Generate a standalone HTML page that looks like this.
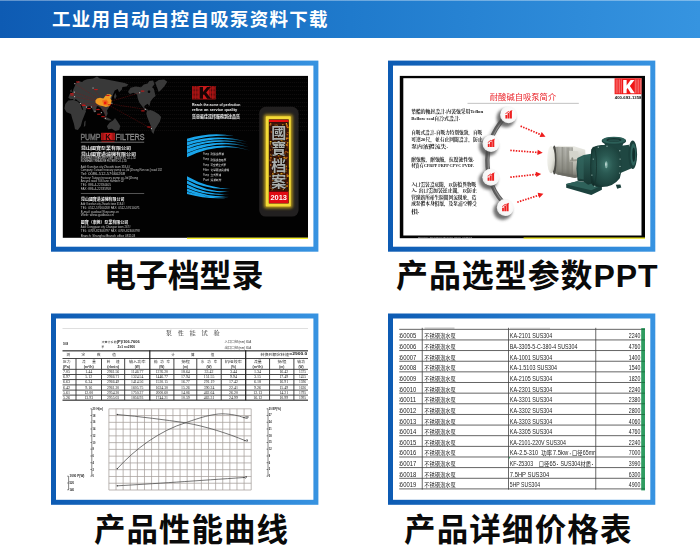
<!DOCTYPE html>
<html lang="zh-CN">
<head>
<meta charset="utf-8">
<title>工业用自动自控自吸泵资料下载</title>
<style>
html,body{margin:0;padding:0;background:#fff;}
body{width:700px;height:552px;position:relative;overflow:hidden;font-family:"Liberation Sans","Noto Sans CJK SC",sans-serif;}
.header{position:absolute;left:0;top:0;width:700px;height:38px;}
.header .bar{position:absolute;left:0;top:0;width:700px;height:37.5px;background:linear-gradient(to right,#0e5bb3 0%,#1f7acc 50%,#3694e0 100%);}
.header .hl{position:absolute;left:0;top:0;width:700px;height:1px;background:rgba(255,255,255,.35);}
.header svg{position:absolute;left:0;top:0;}
.frame{position:absolute;}
.frame svg{display:block;opacity:.999;}
.caption{position:absolute;left:0;width:700px;height:48px;}
.caption svg{display:block;}
text{font-family:"Liberation Sans","Noto Sans CJK SC",sans-serif;}
.serif{font-family:"Liberation Serif","Noto Serif CJK SC",serif;}
</style>
</head>
<body>
<div class="header"><div class="bar"></div><div class="hl"></div>
<svg width="700" height="38" viewBox="0 0 700 38"><text x="52" y="26.4" font-size="18.5" font-weight="bold" fill="#ffffff" textLength="275.5" lengthAdjust="spacing">工业用自动自控自吸泵资料下载</text></svg>
</div>
<div class="frame f1" style="left:50px;top:59px;width:271px;height:195px">
<svg width="271" height="195" viewBox="50 59 271 195">
<defs><linearGradient id="fg-f1" gradientUnits="userSpaceOnUse" x1="51" y1="0" x2="318.4" y2="0"><stop offset="0" stop-color="#0d5bb3"/><stop offset="1" stop-color="#3793e1"/></linearGradient></defs>
<rect x="51" y="60.6" width="267.4" height="191.1" fill="url(#fg-f1)"/>
<rect x="56" y="65.6" width="257.4" height="181.1" fill="#ffffff"/>
<rect x="62.8" y="75.9" width="245.2" height="161.9" fill="#020202"/>
<rect x="187" y="237.7" width="121" height="1.2" fill="#f4ee10"/>
<g stroke="#1c1919" stroke-width="0.5" stroke-dasharray="1.2 0.8"><line x1="120" y1="78.5" x2="308" y2="78.5"/><line x1="120" y1="82.5" x2="308" y2="82.5"/><line x1="120" y1="86.5" x2="308" y2="86.5"/><line x1="120" y1="90.5" x2="308" y2="90.5"/><line x1="120" y1="94.5" x2="308" y2="94.5"/><line x1="120" y1="98.5" x2="308" y2="98.5"/><line x1="120" y1="102.5" x2="308" y2="102.5"/><line x1="120" y1="106.5" x2="308" y2="106.5"/><line x1="120" y1="110.5" x2="308" y2="110.5"/><line x1="120" y1="114.5" x2="308" y2="114.5"/><line x1="120" y1="118.5" x2="308" y2="118.5"/><line x1="120" y1="122.5" x2="308" y2="122.5"/><line x1="120" y1="126.5" x2="308" y2="126.5"/><line x1="120" y1="130.5" x2="308" y2="130.5"/></g>
<polygon points="68.3,97.8 69.7,93.9 72.2,92.8 73.3,89.5 75.5,84.5 78.2,80.9 82.1,82.0 83.8,80.4 87.1,79.3 93.1,78.6 97.0,76.4 99.8,78.4 104.2,79.0 111.9,80.4 119.7,82.0 124.6,83.1 128.5,84.5 126.3,86.4 122.4,87.0 121.9,89.5 119.1,92.2 117.7,88.9 114.7,90.6 113.0,94.4 111.9,97.8 110.6,102.2 109.2,107.1 107.0,110.5 107.7,113.8 105.9,117.3 104.0,112.7 102.0,109.6 100.0,107.1 97.0,106.0 95.1,112.5 93.7,112.1 91.5,107.1 89.0,106.0 87.4,107.1 85.2,111.6 83.4,110.5 82.1,106.3 80.4,103.0 77.7,100.7 75.7,99.0 74.4,100.7 72.8,99.0 70.5,99.2" fill="#393939"/>
<polygon points="65.3,104.1 68.3,100.5 73.3,99.9 77.7,101.6 80.4,104.5 82.1,109.4 86.1,110.9 84.1,116.0 82.3,120.4 80.8,125.9 77.9,129.9 75.0,129.2 73.9,123.7 72.2,118.4 71.0,114.0 66.6,112.2 64.4,108.5" fill="#393939"/>
<polygon points="84.3,121.7 85.7,120.4 85.3,125.7 83.8,127.0" fill="#393939"/>
<polygon points="106.9,126.2 109.7,122.6 113.0,120.4 115.0,118.0 117.5,121.5 120.3,125.9 119.2,129.9 115.2,131.0 111.9,128.8 108.2,129.2" fill="#393939"/>
<polygon points="103.3,118.0 106.4,117.3 109.7,118.8 111.9,120.2 108.6,120.4 105.3,119.5" fill="#393939"/>
<polygon points="113.9,96.7 115.2,93.0 116.6,95.9 115.0,99.6" fill="#393939"/>
<polygon points="70.2,90.6 71.5,89.2 71.9,91.7 70.6,92.6" fill="#393939"/>
<polygon points="128.0,91.9 130.5,87.8 135.5,86.6 141.0,87.3 143.8,84.5 147.6,83.4 149.3,81.1 153.1,80.6 154.5,84.2 152.0,87.3 153.7,88.6 155.6,96.1 153.1,97.9 150.5,101.6 149.4,106.3 147.6,103.8 145.0,105.4 143.9,107.1 146.1,108.8 148.5,110.0 147.6,111.1 144.5,109.4 142.1,106.3 139.4,102.7 137.7,98.3 137.1,94.6 133.3,92.8 129.9,94.1" fill="#393939"/>
<polygon points="155.1,82.4 158.7,80.1 164.2,79.5 167.3,81.7 164.4,86.2 161.5,89.5 158.7,91.9 157.0,87.3" fill="#393939"/>
<polygon points="147.0,111.1 150.4,109.9 154.3,111.6 158.7,114.2 161.2,117.1 159.9,121.5 157.1,125.9 154.9,129.2 153.4,133.9 151.6,131.5 150.9,125.9 149.0,121.5 147.2,117.1 146.3,113.3" fill="#393939"/>
<circle cx="149.0" cy="91.7" r="1.3" fill="#050505"/>
<g stroke="#8a1515" stroke-width="0.45" stroke-dasharray="1.6 0.7" opacity="0.85"><line x1="104.8" y1="103.0" x2="74.9" y2="83.7"/><line x1="104.8" y1="103.0" x2="74.4" y2="92.2"/><line x1="104.8" y1="103.0" x2="74.6" y2="96.7"/><line x1="104.8" y1="103.0" x2="80.4" y2="103.6"/><line x1="104.8" y1="103.0" x2="86.5" y2="107.1"/><line x1="104.8" y1="103.0" x2="91.5" y2="107.1"/><line x1="104.8" y1="103.0" x2="95.1" y2="111.3"/><line x1="104.8" y1="103.0" x2="101.4" y2="112.7"/><line x1="104.8" y1="103.0" x2="105.5" y2="118.4"/><line x1="104.8" y1="103.0" x2="93.1" y2="88.1"/><line x1="104.8" y1="103.0" x2="110.3" y2="97.2"/><line x1="104.8" y1="103.0" x2="111.9" y2="103.3"/><line x1="104.8" y1="103.0" x2="139.7" y2="92.8"/><line x1="104.8" y1="103.0" x2="145.4" y2="109.4"/><line x1="104.8" y1="103.0" x2="151.5" y2="128.7"/></g>
<polygon points="95.4,100.5 97.0,98.5 100.0,97.8 103.3,98.5 105.3,96.1 107.0,94.3 110.3,94.3 111.9,95.7 109.9,97.6 111.7,100.5 111.0,103.8 109.2,106.3 105.9,107.1 102.5,106.0 99.8,105.5 97.0,104.1 95.6,102.7" fill="#f09a22"/>
<polygon points="102.0,100.5 106.4,99.6 108.6,102.2 107.0,105.5 103.6,104.9" fill="#f26a1a"/>
<polygon points="104.0,101.8 106.4,101.6 106.4,104.1 104.2,104.3" fill="#ea1a10"/>
<rect x="74.3" y="83.1" width="1.1" height="1.1" fill="#b4b4b4"/><rect x="76.1" y="81.5" width="3.4" height="1" fill="#c81818"/><rect x="73.8" y="91.6" width="1.1" height="1.1" fill="#b4b4b4"/><rect x="70.2" y="93.2" width="3.4" height="1" fill="#c81818"/><rect x="74.0" y="96.1" width="1.1" height="1.1" fill="#b4b4b4"/><rect x="70.4" y="94.5" width="3.4" height="1" fill="#c81818"/><rect x="79.8" y="103.0" width="1.1" height="1.1" fill="#b4b4b4"/><rect x="81.6" y="104.6" width="3.4" height="1" fill="#c81818"/><rect x="85.9" y="106.5" width="1.1" height="1.1" fill="#b4b4b4"/><rect x="82.3" y="104.9" width="3.4" height="1" fill="#c81818"/><rect x="90.9" y="106.5" width="1.1" height="1.1" fill="#b4b4b4"/><rect x="87.3" y="108.1" width="3.4" height="1" fill="#c81818"/><rect x="94.5" y="110.7" width="1.1" height="1.1" fill="#b4b4b4"/><rect x="96.3" y="109.1" width="3.4" height="1" fill="#c81818"/><rect x="100.8" y="112.1" width="1.1" height="1.1" fill="#b4b4b4"/><rect x="97.2" y="113.7" width="3.4" height="1" fill="#c81818"/><rect x="104.9" y="117.8" width="1.1" height="1.1" fill="#b4b4b4"/><rect x="101.3" y="116.2" width="3.4" height="1" fill="#c81818"/><rect x="92.5" y="87.5" width="1.1" height="1.1" fill="#b4b4b4"/><rect x="94.3" y="89.1" width="3.4" height="1" fill="#c81818"/><rect x="109.7" y="96.6" width="1.1" height="1.1" fill="#b4b4b4"/><rect x="106.1" y="95.0" width="3.4" height="1" fill="#c81818"/><rect x="111.3" y="102.7" width="1.1" height="1.1" fill="#b4b4b4"/><rect x="107.7" y="104.3" width="3.4" height="1" fill="#c81818"/><rect x="139.1" y="92.2" width="1.1" height="1.1" fill="#b4b4b4"/><rect x="140.9" y="90.6" width="3.4" height="1" fill="#c81818"/><rect x="144.8" y="108.8" width="1.1" height="1.1" fill="#b4b4b4"/><rect x="141.2" y="110.4" width="3.4" height="1" fill="#c81818"/><rect x="150.9" y="128.1" width="1.1" height="1.1" fill="#b4b4b4"/><rect x="147.3" y="126.5" width="3.4" height="1" fill="#c81818"/>
<text x="80.4" y="140" font-size="9.6" fill="none" stroke="#8c8c8c" stroke-width="0.45" textLength="20" lengthAdjust="spacingAndGlyphs">PUMP</text>
<text x="80.4" y="140" font-size="9.6" fill="#6e6e6e" textLength="20" lengthAdjust="spacingAndGlyphs">PUMP</text>
<text x="115.6" y="140" font-size="9.6" fill="#6e6e6e" stroke="#8c8c8c" stroke-width="0.45" textLength="29" lengthAdjust="spacingAndGlyphs">FILTERS</text>
<rect x="101.2" y="132.8" width="13.6" height="7.4" fill="#d81e1e"/>
<text x="105.2" y="139.7" font-size="8.4" font-weight="bold" fill="#1a0606" textLength="5.6" lengthAdjust="spacingAndGlyphs">K</text>
<g stroke="#4a0a0a" stroke-width="0.5"><line x1="102.4" y1="133" x2="102.4" y2="140"/><line x1="103.8" y1="133" x2="103.8" y2="140"/><line x1="112.2" y1="133" x2="112.2" y2="140"/><line x1="113.6" y1="133" x2="113.6" y2="140"/></g>
<rect x="80.8" y="141.8" width="63.4" height="0.7" fill="#9a9a9a"/>
<rect x="101.5" y="141.4" width="13" height="0.7" fill="#c01818"/>
<rect x="80.8" y="193" width="63.4" height="0.6" fill="#8a8a8a"/>
<text x="81" y="150.4" font-size="4" font-weight="bold" fill="#f2f2f2" textLength="50" lengthAdjust="spacingAndGlyphs">昆山國寶泵業有限公司</text>
<text x="81" y="155.5" font-size="4" font-weight="bold" fill="#f2f2f2" textLength="55" lengthAdjust="spacingAndGlyphs">昆山國寶過濾機有限公司</text>
<text x="81" y="200.5" font-size="4" font-weight="bold" fill="#f2f2f2" textLength="43.4" lengthAdjust="spacingAndGlyphs">昆山國寶過濾機有限公司</text>
<text x="80.8" y="223.8" font-size="4" font-weight="bold" fill="#f2f2f2" textLength="47.4" lengthAdjust="spacingAndGlyphs">國寶（東莞）泵業有限公司</text>
<text x="80.8" y="159.2" font-size="3.036" fill="#e0e0e0" textLength="55" lengthAdjust="spacingAndGlyphs">KUNSHAN TREASURE PUMP INDUSTRY CO.,LTD</text>
<text x="80.8" y="162.4" font-size="3.036" fill="#e0e0e0" textLength="46" lengthAdjust="spacingAndGlyphs">KUNSHAN TREASURE FILTERS CO.,LTD</text>
<text x="80.8" y="168.2" font-size="3.3000000000000003" fill="#c8c8c8" textLength="49.4" lengthAdjust="spacingAndGlyphs">Add: Kunshan city Zhoushi town 318-6#</text>
<text x="80.8" y="171.4" font-size="3.3000000000000003" fill="#c8c8c8" textLength="81.3" lengthAdjust="spacingAndGlyphs">Company: Taiwan treasury pump co.,ltd [Zhong Ron sec] road 132</text>
<text x="80.8" y="175" font-size="3.3000000000000003" fill="#c8c8c8" textLength="44.2" lengthAdjust="spacingAndGlyphs">Tel: 0086-512-57660268</text>
<text x="80.8" y="178.7" font-size="3.3000000000000003" fill="#c8c8c8" textLength="57.2" lengthAdjust="spacingAndGlyphs">Factory: Taiwan treasury pump co.,ltd [Zhong</text>
<text x="80.8" y="182.1" font-size="3.3000000000000003" fill="#c8c8c8" textLength="43.2" lengthAdjust="spacingAndGlyphs">Ancyra road 706 lane number 02</text>
<text x="80.8" y="185.8" font-size="3.3000000000000003" fill="#c8c8c8" textLength="30.2" lengthAdjust="spacingAndGlyphs">TEL: 886-4-22334405</text>
<text x="80.8" y="189.8" font-size="3.3000000000000003" fill="#c8c8c8" textLength="30.2" lengthAdjust="spacingAndGlyphs">FAX: 886-4-22335958</text>
<text x="80.8" y="205.4" font-size="3.3000000000000003" fill="#c8c8c8" textLength="43.8" lengthAdjust="spacingAndGlyphs">Add: Kunshan city Zhoushi town 318-6#</text>
<text x="80.8" y="209" font-size="3.3000000000000003" fill="#c8c8c8" textLength="59" lengthAdjust="spacingAndGlyphs">TEL: 0512-57660268  FAX: 0512-57610071</text>
<text x="80.8" y="212.5" font-size="3.3000000000000003" fill="#c8c8c8" textLength="38.2" lengthAdjust="spacingAndGlyphs">E-mail: guobao@kspump.cn</text>
<text x="80.8" y="216.1" font-size="3.3000000000000003" fill="#c8c8c8" textLength="33.1" lengthAdjust="spacingAndGlyphs">Web: www.guobao.cn</text>
<text x="80.8" y="228.2" font-size="3.3000000000000003" fill="#c8c8c8" textLength="49.8" lengthAdjust="spacingAndGlyphs">Add: Dongguan city Changan town 267#</text>
<text x="80.8" y="232.2" font-size="3.3000000000000003" fill="#c8c8c8" textLength="59" lengthAdjust="spacingAndGlyphs">TEL: 0769-82306797  FAX: 0769-82306798</text>
<text x="80.8" y="236.9" font-size="3.3000000000000003" fill="#c8c8c8" textLength="54.4" lengthAdjust="spacingAndGlyphs">Branch: Shanghai Branch office 081103</text>
<rect x="192" y="86" width="23.7" height="13.4" fill="#c41818"/>
<g stroke="#2a0505" stroke-width="0.95" stroke-dasharray="0.75 0.55"><line x1="193.1" y1="86.3" x2="193.1" y2="99.1"/><line x1="194.7" y1="86.3" x2="194.7" y2="99.1"/><line x1="196.3" y1="86.3" x2="196.3" y2="99.1"/><line x1="197.9" y1="86.3" x2="197.9" y2="99.1"/><line x1="209.9" y1="86.3" x2="209.9" y2="99.1"/><line x1="211.5" y1="86.3" x2="211.5" y2="99.1"/><line x1="213.1" y1="86.3" x2="213.1" y2="99.1"/><line x1="214.7" y1="86.3" x2="214.7" y2="99.1"/></g>
<rect x="199" y="86.6" width="10" height="12.2" fill="#c81a1a"/>
<path fill="#160404" d="M199.6 87.1h3.4v5l4.1-5h3.7l-4.6 5.4 4.9 6.3h-3.9l-3.3-4.5-.9 1v3.5h-3.4z"/>
<text font-weight="bold" x="192" y="105.8" font-size="3.6" fill="#f0f0f0" textLength="48.4" lengthAdjust="spacingAndGlyphs">Reach the acme of perfection</text>
<text font-weight="bold" x="192" y="111" font-size="3.6" fill="#f0f0f0" textLength="45.2" lengthAdjust="spacingAndGlyphs">refine an service quality</text>
<text x="192" y="118.3" font-size="4.2" font-weight="bold" fill="#f2f2f2" textLength="48" lengthAdjust="spacingAndGlyphs">質量最佳選擇服務到達品質</text>
<defs><linearGradient id="arcf" gradientUnits="userSpaceOnUse" x1="187" y1="0" x2="251" y2="0"><stop offset="0" stop-color="#18a4ea"/><stop offset="0.55" stop-color="#1aa8ee"/><stop offset="1" stop-color="#1aa8ee" stop-opacity="0.25"/></linearGradient></defs>
<path fill="url(#arcf)" d="M187 138.8Q210.5 131.6 234 135.9Q210.5 134.3 187 141.7ZM187 142.3Q217.1 132.8 247.2 141.7Q217.1 134.8 187 145.5ZM187 145.9Q217.8 135.1 248.6 144.5Q217.8 137.0 187 148.9ZM187 149.3Q218.2 137.4 249.3 147.2Q218.2 139.0 187 153ZM187 153.4Q218.5 139.5 250 150.6Q218.5 141.3 187 157.2ZM187 176.2Q208.8 188.8 230.6 188.2Q208.8 190.7 187 179.7ZM187 180.6Q208.5 192.9 230 191.3Q208.5 194.8 187 183.8ZM187 184.8Q208.2 195.4 229.3 194Q208.2 197.2 187 187.8ZM187 188.4Q208.2 197.3 229.3 196.3Q208.2 199.0 187 191.2ZM187 191.8Q207.8 198.3 228.6 197.7Q207.8 199.7 187 194Z"/>
<text x="203" y="155.2" font-size="3.168" fill="#d8d8d8" textLength="6" lengthAdjust="spacingAndGlyphs">Pump</text>
<text x="210.6" y="155.4" font-size="2.8" fill="#e8e8e8" textLength="13.4" lengthAdjust="spacingAndGlyphs">耐酸鹼泵浦</text>
<text x="203" y="160.39999999999998" font-size="3.168" fill="#d8d8d8" textLength="6" lengthAdjust="spacingAndGlyphs">Pump</text>
<text x="210.6" y="160.6" font-size="2.8" fill="#e8e8e8" textLength="15.8" lengthAdjust="spacingAndGlyphs">耐酸鹼自吸泵</text>
<text x="203" y="165.6" font-size="3.168" fill="#d8d8d8" textLength="6" lengthAdjust="spacingAndGlyphs">Pump</text>
<text x="210.5" y="165.8" font-size="2.8" fill="#e8e8e8" textLength="15.6" lengthAdjust="spacingAndGlyphs">可空轉立式泵</text>
<text x="203" y="170.79999999999998" font-size="3.168" fill="#d8d8d8" textLength="6" lengthAdjust="spacingAndGlyphs">Filter</text>
<text x="210.5" y="171" font-size="2.8" fill="#e8e8e8" textLength="18.6" lengthAdjust="spacingAndGlyphs">化學藥液過濾機</text>
<text x="203" y="176.0" font-size="3.168" fill="#d8d8d8" textLength="6" lengthAdjust="spacingAndGlyphs">Pump</text>
<text x="210.5" y="176.2" font-size="2.8" fill="#e8e8e8" textLength="10.6" lengthAdjust="spacingAndGlyphs">立式泵浦</text>
<text x="203" y="181.2" font-size="3.168" fill="#d8d8d8" textLength="6" lengthAdjust="spacingAndGlyphs">Part</text>
<text x="210.6" y="181.4" font-size="2.8" fill="#e8e8e8" textLength="10.8" lengthAdjust="spacingAndGlyphs">過濾耗材</text>
<defs><filter id="glow1" x="-50%" y="-20%" width="200%" height="140%"><feGaussianBlur stdDeviation="1.5"/></filter></defs>
<rect x="259.2" y="106.8" width="39.4" height="109.8" rx="6.5" fill="#222020"/>
<rect x="264" y="114.6" width="28.6" height="93.6" rx="2" fill="#d8b41e" opacity="0.8" filter="url(#glow1)"/>
<rect x="265.8" y="116.3" width="25" height="90.2" rx="0.8" fill="#f4da36"/>
<rect x="268.8" y="119.4" width="19.9" height="84" fill="#150804"/>
<rect x="269" y="119.8" width="19.5" height="2.3" fill="#e01010"/>
<rect x="269" y="122.4" width="19.5" height="68.6" fill="#3e180a"/>
<rect x="273.3" y="129.6" width="1.4" height="0.9" fill="#e0b020"/><rect x="269.4" y="159.7" width="1.8" height="1.7" fill="#d8901e"/><rect x="273.1" y="158.9" width="1.7" height="1.8" fill="#d8901e"/><rect x="273.8" y="186.3" width="1.8" height="1.8" fill="#1a0804"/><rect x="283.7" y="135.7" width="1.1" height="1.8" fill="#d8901e"/><rect x="286.7" y="180.0" width="0.9" height="1.5" fill="#401408"/><rect x="281.4" y="156.8" width="1.1" height="1.1" fill="#c06a1c"/><rect x="286.4" y="177.9" width="0.8" height="1.2" fill="#d8901e"/><rect x="282.0" y="143.7" width="1.3" height="1.5" fill="#2a0c04"/><rect x="276.9" y="133.5" width="1.1" height="1.8" fill="#d8901e"/><rect x="270.5" y="153.9" width="1.4" height="1.6" fill="#d8901e"/><rect x="281.9" y="132.4" width="0.9" height="1.9" fill="#2a0c04"/><rect x="280.7" y="152.4" width="1.2" height="1.7" fill="#c06a1c"/><rect x="274.9" y="160.4" width="0.9" height="0.9" fill="#401408"/><rect x="273.2" y="174.3" width="0.9" height="1.9" fill="#2a0c04"/><rect x="274.4" y="124.3" width="1.6" height="1.9" fill="#401408"/><rect x="286.6" y="172.3" width="0.8" height="1.1" fill="#401408"/><rect x="286.8" y="175.0" width="1.8" height="1.8" fill="#e0b020"/><rect x="281.5" y="127.9" width="1.9" height="1.2" fill="#2a0c04"/><rect x="273.6" y="163.1" width="1.2" height="0.8" fill="#c06a1c"/><rect x="269.8" y="134.1" width="2.0" height="1.5" fill="#401408"/><rect x="277.1" y="136.6" width="0.9" height="0.9" fill="#2a0c04"/><rect x="282.6" y="162.9" width="1.5" height="1.5" fill="#c06a1c"/><rect x="279.7" y="144.3" width="0.9" height="1.4" fill="#1a0804"/><rect x="283.2" y="150.3" width="1.4" height="1.1" fill="#2a0c04"/><rect x="276.6" y="125.1" width="1.3" height="1.6" fill="#e0b020"/><rect x="276.9" y="137.2" width="0.8" height="1.1" fill="#2a0c04"/><rect x="273.5" y="136.7" width="1.3" height="1.1" fill="#2a0c04"/><rect x="275.0" y="182.8" width="1.5" height="2.0" fill="#401408"/><rect x="276.4" y="183.5" width="1.4" height="0.9" fill="#1a0804"/><rect x="272.9" y="181.7" width="1.2" height="1.6" fill="#c06a1c"/><rect x="283.7" y="166.0" width="1.4" height="1.6" fill="#e0b020"/><rect x="281.6" y="140.7" width="1.9" height="0.9" fill="#e0b020"/><rect x="286.9" y="187.6" width="0.9" height="1.9" fill="#2a0c04"/><rect x="271.3" y="188.1" width="1.8" height="1.6" fill="#1a0804"/><rect x="277.5" y="154.5" width="1.9" height="1.1" fill="#e0b020"/><rect x="269.1" y="185.0" width="1.5" height="1.1" fill="#1a0804"/><rect x="276.3" y="174.6" width="1.9" height="1.5" fill="#e0b020"/><rect x="285.2" y="136.2" width="1.8" height="1.5" fill="#401408"/><rect x="283.4" y="184.5" width="0.8" height="0.8" fill="#b04c14"/><rect x="279.9" y="155.6" width="1.5" height="1.0" fill="#d8901e"/><rect x="275.7" y="174.5" width="1.2" height="1.2" fill="#1a0804"/><rect x="270.4" y="187.5" width="1.3" height="1.7" fill="#b04c14"/><rect x="274.7" y="138.4" width="1.8" height="1.3" fill="#b04c14"/><rect x="270.4" y="184.5" width="1.4" height="1.3" fill="#401408"/><rect x="284.8" y="175.1" width="1.6" height="1.9" fill="#9a4214"/><rect x="280.7" y="185.5" width="1.3" height="1.8" fill="#b04c14"/><rect x="272.1" y="181.7" width="1.6" height="1.2" fill="#c06a1c"/><rect x="284.8" y="140.1" width="1.7" height="0.8" fill="#1a0804"/><rect x="274.7" y="159.4" width="1.7" height="1.5" fill="#b04c14"/><rect x="278.7" y="157.8" width="1.8" height="1.2" fill="#e0b020"/><rect x="283.1" y="189.2" width="1.6" height="1.5" fill="#1a0804"/><rect x="274.8" y="184.3" width="1.7" height="1.5" fill="#b04c14"/><rect x="286.2" y="156.9" width="1.5" height="1.3" fill="#b04c14"/><rect x="271.6" y="174.7" width="2.0" height="1.2" fill="#401408"/><rect x="277.0" y="163.5" width="1.1" height="1.9" fill="#c06a1c"/><rect x="272.6" y="176.3" width="0.9" height="1.6" fill="#9a4214"/><rect x="285.6" y="144.9" width="1.2" height="1.2" fill="#401408"/><rect x="269.4" y="124.0" width="1.8" height="1.8" fill="#9a4214"/><rect x="286.5" y="133.3" width="1.6" height="2.0" fill="#b04c14"/><rect x="270.4" y="185.2" width="1.0" height="1.4" fill="#9a4214"/><rect x="285.3" y="137.6" width="1.8" height="1.6" fill="#d8901e"/><rect x="285.2" y="138.7" width="1.6" height="1.2" fill="#b04c14"/><rect x="273.2" y="144.7" width="1.9" height="1.3" fill="#b04c14"/><rect x="276.4" y="177.9" width="1.3" height="1.5" fill="#d8901e"/><rect x="273.6" y="183.3" width="1.6" height="1.5" fill="#b04c14"/><rect x="275.7" y="186.9" width="1.0" height="0.9" fill="#1a0804"/><rect x="286.9" y="189.4" width="1.5" height="1.2" fill="#401408"/><rect x="270.7" y="140.0" width="1.6" height="1.4" fill="#2a0c04"/><rect x="280.1" y="127.1" width="0.9" height="1.0" fill="#2a0c04"/><rect x="269.9" y="149.5" width="0.8" height="1.1" fill="#d8901e"/><rect x="282.8" y="136.5" width="0.9" height="1.1" fill="#401408"/><rect x="285.2" y="166.1" width="1.7" height="1.6" fill="#c06a1c"/><rect x="286.5" y="182.0" width="1.5" height="1.6" fill="#9a4214"/><rect x="282.3" y="159.9" width="1.0" height="1.8" fill="#e0b020"/><rect x="277.9" y="127.2" width="1.0" height="1.9" fill="#c06a1c"/><rect x="278.5" y="158.9" width="1.8" height="1.2" fill="#d8901e"/><rect x="276.1" y="151.2" width="1.1" height="1.6" fill="#1a0804"/><rect x="274.6" y="176.0" width="1.0" height="1.8" fill="#9a4214"/><rect x="284.2" y="138.3" width="1.4" height="1.7" fill="#1a0804"/><rect x="272.4" y="178.4" width="1.2" height="1.0" fill="#e0b020"/><rect x="278.8" y="135.3" width="1.5" height="1.9" fill="#b04c14"/><rect x="274.6" y="166.3" width="1.5" height="0.8" fill="#e0b020"/><rect x="280.6" y="139.9" width="1.7" height="1.4" fill="#d8901e"/><rect x="284.3" y="177.2" width="1.9" height="1.9" fill="#9a4214"/><rect x="285.3" y="167.1" width="1.5" height="1.4" fill="#1a0804"/><rect x="287.2" y="146.5" width="1.0" height="0.9" fill="#9a4214"/><rect x="278.6" y="178.5" width="0.8" height="1.6" fill="#2a0c04"/><rect x="275.2" y="163.3" width="1.6" height="0.9" fill="#c06a1c"/><rect x="287.0" y="178.5" width="0.9" height="1.1" fill="#1a0804"/><rect x="274.0" y="187.1" width="0.8" height="1.6" fill="#1a0804"/><rect x="272.9" y="139.4" width="1.8" height="1.2" fill="#401408"/><rect x="276.1" y="163.5" width="1.0" height="1.4" fill="#1a0804"/><rect x="270.2" y="157.1" width="1.5" height="1.1" fill="#d8901e"/><rect x="272.8" y="170.1" width="1.0" height="0.8" fill="#401408"/><rect x="285.3" y="185.6" width="1.2" height="1.9" fill="#d8901e"/><rect x="286.5" y="185.3" width="1.2" height="1.5" fill="#e0b020"/><rect x="273.7" y="157.2" width="1.3" height="1.5" fill="#1a0804"/><rect x="281.4" y="166.0" width="0.9" height="2.0" fill="#401408"/><rect x="272.1" y="128.8" width="1.9" height="1.1" fill="#2a0c04"/><rect x="273.0" y="166.0" width="1.6" height="0.8" fill="#9a4214"/><rect x="279.5" y="136.4" width="1.1" height="1.8" fill="#9a4214"/><rect x="271.1" y="188.3" width="1.8" height="1.5" fill="#d8901e"/><rect x="271.8" y="173.0" width="1.9" height="1.7" fill="#c06a1c"/><rect x="282.9" y="176.8" width="1.1" height="1.5" fill="#2a0c04"/><rect x="280.6" y="172.4" width="2.0" height="1.0" fill="#401408"/><rect x="282.9" y="125.9" width="1.9" height="1.6" fill="#1a0804"/><rect x="287.0" y="126.5" width="1.6" height="1.6" fill="#d8901e"/><rect x="284.5" y="129.6" width="1.8" height="1.3" fill="#2a0c04"/><rect x="280.1" y="156.1" width="1.2" height="1.7" fill="#401408"/><rect x="284.4" y="173.9" width="1.0" height="1.2" fill="#1a0804"/><rect x="274.5" y="147.2" width="1.9" height="1.6" fill="#2a0c04"/><rect x="276.1" y="158.8" width="1.9" height="1.0" fill="#9a4214"/><rect x="275.4" y="189.0" width="0.8" height="0.9" fill="#2a0c04"/><rect x="274.5" y="169.2" width="1.9" height="1.4" fill="#401408"/><rect x="269.8" y="143.3" width="1.0" height="2.0" fill="#e0b020"/><rect x="280.4" y="146.3" width="1.3" height="1.0" fill="#1a0804"/><rect x="269.5" y="175.6" width="1.1" height="1.2" fill="#e0b020"/><rect x="280.0" y="126.3" width="1.4" height="2.0" fill="#9a4214"/><rect x="278.7" y="134.8" width="1.5" height="1.5" fill="#2a0c04"/><rect x="282.3" y="124.1" width="1.1" height="1.5" fill="#e0b020"/><rect x="280.4" y="131.7" width="1.1" height="1.7" fill="#d8901e"/><rect x="279.0" y="147.7" width="1.9" height="1.8" fill="#401408"/><rect x="281.1" y="161.3" width="1.1" height="1.2" fill="#401408"/><rect x="278.9" y="159.4" width="1.5" height="1.8" fill="#401408"/><rect x="278.1" y="178.6" width="1.9" height="1.5" fill="#9a4214"/><rect x="287.2" y="132.3" width="1.5" height="0.9" fill="#c06a1c"/><rect x="284.1" y="181.7" width="1.7" height="0.9" fill="#9a4214"/><rect x="284.4" y="132.7" width="1.1" height="0.9" fill="#c06a1c"/><rect x="277.7" y="181.1" width="1.6" height="1.7" fill="#2a0c04"/><rect x="278.7" y="173.5" width="1.9" height="1.1" fill="#1a0804"/><rect x="276.7" y="122.8" width="0.9" height="1.3" fill="#401408"/><rect x="270.5" y="151.3" width="1.1" height="1.8" fill="#1a0804"/><rect x="286.6" y="177.9" width="1.7" height="1.7" fill="#2a0c04"/><rect x="270.5" y="128.9" width="1.9" height="1.4" fill="#1a0804"/><rect x="278.7" y="127.0" width="1.6" height="1.6" fill="#401408"/><rect x="278.4" y="159.7" width="0.9" height="1.3" fill="#1a0804"/><rect x="271.5" y="129.6" width="1.4" height="1.6" fill="#401408"/><rect x="271.4" y="162.2" width="1.5" height="0.8" fill="#9a4214"/><rect x="269.8" y="141.0" width="1.7" height="1.5" fill="#e0b020"/><rect x="286.7" y="132.9" width="1.4" height="1.1" fill="#401408"/><rect x="280.5" y="134.1" width="2.0" height="1.5" fill="#b04c14"/><rect x="269.5" y="160.3" width="1.1" height="1.5" fill="#2a0c04"/><rect x="279.6" y="163.0" width="1.9" height="1.0" fill="#b04c14"/><rect x="272.0" y="187.3" width="1.6" height="1.4" fill="#401408"/><rect x="280.4" y="140.8" width="1.2" height="1.8" fill="#c06a1c"/><rect x="283.7" y="144.8" width="1.0" height="0.9" fill="#2a0c04"/><rect x="287.3" y="124.8" width="0.9" height="1.9" fill="#1a0804"/><rect x="285.1" y="168.8" width="1.1" height="1.1" fill="#c06a1c"/><rect x="286.8" y="149.2" width="1.6" height="1.9" fill="#2a0c04"/><rect x="277.0" y="156.9" width="1.7" height="0.9" fill="#401408"/><rect x="270.0" y="122.9" width="1.3" height="1.7" fill="#c06a1c"/><rect x="279.3" y="188.5" width="1.4" height="1.9" fill="#401408"/><rect x="271.4" y="146.0" width="1.7" height="1.5" fill="#9a4214"/><rect x="278.0" y="185.9" width="1.5" height="0.9" fill="#e0b020"/><rect x="271.9" y="152.9" width="1.7" height="0.9" fill="#2a0c04"/><rect x="270.8" y="131.2" width="1.7" height="1.7" fill="#b04c14"/><rect x="285.3" y="144.1" width="1.9" height="1.3" fill="#d8901e"/><rect x="285.8" y="129.6" width="1.9" height="2.0" fill="#401408"/><rect x="284.3" y="170.7" width="2.0" height="1.2" fill="#e0b020"/><rect x="273.2" y="180.4" width="1.9" height="1.1" fill="#c06a1c"/><rect x="275.2" y="125.0" width="1.5" height="1.7" fill="#2a0c04"/><rect x="273.3" y="157.6" width="1.3" height="1.4" fill="#e0b020"/><rect x="281.3" y="156.0" width="1.8" height="1.3" fill="#1a0804"/><rect x="275.6" y="182.2" width="1.0" height="1.2" fill="#d8901e"/><rect x="271.8" y="159.2" width="1.7" height="1.7" fill="#b04c14"/><rect x="286.8" y="185.4" width="1.2" height="1.4" fill="#b04c14"/><rect x="282.9" y="175.8" width="1.7" height="1.6" fill="#1a0804"/><rect x="273.7" y="164.6" width="1.9" height="1.4" fill="#c06a1c"/><rect x="284.6" y="153.7" width="1.0" height="0.8" fill="#d8901e"/><rect x="273.3" y="145.6" width="1.8" height="1.8" fill="#401408"/><rect x="279.6" y="141.1" width="1.6" height="0.8" fill="#1a0804"/><rect x="271.0" y="172.4" width="1.1" height="1.8" fill="#2a0c04"/><rect x="270.2" y="164.1" width="1.0" height="1.8" fill="#c06a1c"/><rect x="278.4" y="135.5" width="1.4" height="1.2" fill="#1a0804"/><rect x="273.9" y="150.0" width="1.6" height="1.9" fill="#c06a1c"/><rect x="275.2" y="165.5" width="1.5" height="1.1" fill="#9a4214"/><rect x="270.1" y="188.7" width="1.9" height="1.3" fill="#1a0804"/><rect x="272.8" y="139.4" width="1.7" height="1.2" fill="#b04c14"/><rect x="286.3" y="173.9" width="1.8" height="1.7" fill="#9a4214"/><rect x="284.2" y="170.2" width="1.4" height="1.3" fill="#e0b020"/><rect x="281.8" y="134.1" width="1.0" height="1.3" fill="#1a0804"/><rect x="284.9" y="158.2" width="1.2" height="1.5" fill="#b04c14"/><rect x="273.5" y="165.9" width="1.5" height="1.1" fill="#d8901e"/><rect x="281.7" y="145.0" width="1.7" height="1.6" fill="#d8901e"/><rect x="271.2" y="157.3" width="1.9" height="2.0" fill="#2a0c04"/><rect x="281.7" y="149.0" width="1.6" height="1.5" fill="#c06a1c"/><rect x="272.5" y="182.4" width="1.8" height="0.8" fill="#9a4214"/><rect x="278.3" y="168.2" width="1.1" height="1.8" fill="#1a0804"/><rect x="283.1" y="135.3" width="1.5" height="1.1" fill="#d8901e"/><rect x="285.8" y="123.0" width="1.2" height="1.8" fill="#e0b020"/><rect x="282.5" y="163.2" width="1.9" height="1.7" fill="#401408"/><rect x="284.6" y="155.8" width="1.0" height="1.7" fill="#2a0c04"/><rect x="275.1" y="124.8" width="1.0" height="1.4" fill="#2a0c04"/><rect x="286.3" y="144.4" width="1.8" height="1.5" fill="#c06a1c"/><rect x="276.9" y="172.8" width="1.2" height="1.9" fill="#401408"/><rect x="281.7" y="173.7" width="1.4" height="1.1" fill="#b04c14"/><rect x="271.1" y="167.0" width="1.9" height="1.9" fill="#b04c14"/><rect x="278.3" y="155.6" width="0.9" height="1.2" fill="#b04c14"/><rect x="279.0" y="163.3" width="1.0" height="1.4" fill="#1a0804"/><rect x="272.2" y="148.6" width="0.8" height="1.1" fill="#c06a1c"/><rect x="273.5" y="158.6" width="1.4" height="1.6" fill="#2a0c04"/><rect x="274.5" y="141.0" width="1.0" height="1.6" fill="#e0b020"/><rect x="282.6" y="161.3" width="1.7" height="1.8" fill="#2a0c04"/><rect x="278.8" y="145.2" width="1.0" height="0.9" fill="#1a0804"/><rect x="282.4" y="150.9" width="1.1" height="1.3" fill="#401408"/><rect x="276.3" y="124.4" width="1.0" height="1.3" fill="#c06a1c"/><rect x="273.6" y="134.0" width="1.4" height="1.2" fill="#b04c14"/><rect x="279.4" y="176.3" width="1.0" height="1.5" fill="#c06a1c"/><rect x="278.5" y="174.8" width="1.4" height="1.6" fill="#9a4214"/><rect x="279.3" y="183.7" width="1.5" height="1.0" fill="#d8901e"/><rect x="283.1" y="151.7" width="1.4" height="2.0" fill="#d8901e"/><rect x="286.0" y="124.5" width="1.9" height="2.0" fill="#c06a1c"/><rect x="284.3" y="141.1" width="1.9" height="1.8" fill="#b04c14"/><rect x="285.2" y="165.5" width="1.4" height="1.9" fill="#d8901e"/><rect x="285.6" y="152.3" width="1.8" height="1.1" fill="#1a0804"/><rect x="273.8" y="145.7" width="1.3" height="1.1" fill="#c06a1c"/><rect x="270.9" y="161.4" width="1.4" height="1.5" fill="#9a4214"/><rect x="276.5" y="171.9" width="1.3" height="1.4" fill="#e0b020"/><rect x="280.6" y="161.6" width="1.6" height="1.4" fill="#c06a1c"/><rect x="272.2" y="179.7" width="1.6" height="0.9" fill="#d8901e"/><rect x="281.6" y="163.1" width="1.2" height="1.6" fill="#2a0c04"/><rect x="281.7" y="184.0" width="1.1" height="1.4" fill="#e0b020"/><rect x="278.6" y="126.8" width="1.2" height="1.8" fill="#b04c14"/><rect x="275.4" y="137.5" width="1.5" height="2.0" fill="#401408"/><rect x="286.3" y="151.1" width="1.1" height="1.3" fill="#b04c14"/><rect x="272.1" y="170.8" width="1.8" height="1.9" fill="#2a0c04"/><rect x="283.5" y="173.2" width="1.3" height="1.1" fill="#d8901e"/><rect x="277.8" y="166.3" width="0.9" height="2.0" fill="#c06a1c"/><rect x="269.3" y="144.1" width="1.2" height="1.9" fill="#401408"/><rect x="270.4" y="157.1" width="1.2" height="1.7" fill="#b04c14"/><rect x="282.8" y="128.4" width="1.5" height="1.4" fill="#9a4214"/><rect x="277.1" y="163.8" width="1.0" height="1.7" fill="#b04c14"/><rect x="274.9" y="181.2" width="1.8" height="2.0" fill="#c06a1c"/><rect x="277.5" y="176.5" width="1.9" height="1.1" fill="#c06a1c"/><rect x="287.3" y="152.3" width="1.0" height="0.8" fill="#e0b020"/><rect x="271.9" y="159.3" width="1.5" height="1.2" fill="#2a0c04"/><rect x="278.3" y="138.0" width="1.6" height="1.9" fill="#401408"/><rect x="284.2" y="180.6" width="1.2" height="2.0" fill="#1a0804"/><rect x="272.1" y="129.2" width="1.7" height="1.0" fill="#d8901e"/><rect x="272.1" y="127.3" width="0.9" height="1.0" fill="#401408"/><rect x="271.5" y="189.5" width="1.0" height="1.1" fill="#9a4214"/><rect x="285.3" y="125.8" width="1.2" height="1.1" fill="#401408"/><rect x="277.7" y="172.7" width="1.4" height="2.0" fill="#9a4214"/><rect x="280.0" y="187.5" width="0.9" height="0.8" fill="#d8901e"/><rect x="287.3" y="167.6" width="1.8" height="1.2" fill="#1a0804"/><rect x="282.0" y="166.4" width="1.7" height="1.7" fill="#1a0804"/><rect x="283.9" y="152.5" width="1.4" height="1.4" fill="#9a4214"/><rect x="277.7" y="180.8" width="1.2" height="0.9" fill="#b04c14"/><rect x="272.9" y="167.2" width="1.3" height="1.1" fill="#c06a1c"/><rect x="284.9" y="146.6" width="1.1" height="2.0" fill="#1a0804"/><rect x="273.0" y="151.0" width="0.9" height="1.1" fill="#401408"/><rect x="276.7" y="170.3" width="0.9" height="1.8" fill="#b04c14"/><rect x="281.4" y="170.8" width="1.7" height="1.9" fill="#9a4214"/><rect x="276.4" y="129.3" width="1.5" height="2.0" fill="#2a0c04"/><rect x="282.8" y="134.1" width="1.1" height="1.7" fill="#9a4214"/><rect x="273.9" y="142.8" width="1.3" height="2.0" fill="#9a4214"/><rect x="284.7" y="157.8" width="2.0" height="1.1" fill="#e0b020"/><rect x="276.1" y="153.4" width="1.6" height="1.1" fill="#b04c14"/><rect x="282.8" y="188.8" width="1.0" height="1.4" fill="#d8901e"/><rect x="282.5" y="135.6" width="1.2" height="1.0" fill="#b04c14"/><rect x="275.8" y="137.4" width="1.1" height="1.9" fill="#d8901e"/><rect x="269.4" y="132.8" width="1.4" height="1.4" fill="#2a0c04"/><rect x="280.5" y="146.1" width="1.4" height="0.8" fill="#e0b020"/><rect x="280.5" y="138.1" width="2.0" height="0.9" fill="#c06a1c"/><rect x="276.8" y="133.7" width="0.9" height="1.8" fill="#c06a1c"/><rect x="274.4" y="124.7" width="2.0" height="1.7" fill="#c06a1c"/><rect x="272.9" y="171.1" width="1.1" height="1.7" fill="#e0b020"/><rect x="275.1" y="179.4" width="1.2" height="1.3" fill="#e0b020"/><rect x="286.8" y="143.0" width="1.1" height="1.1" fill="#9a4214"/><rect x="276.2" y="171.5" width="1.0" height="1.7" fill="#2a0c04"/><rect x="284.6" y="161.1" width="1.8" height="1.3" fill="#1a0804"/><rect x="277.4" y="157.3" width="1.7" height="1.3" fill="#2a0c04"/><rect x="287.0" y="142.3" width="1.4" height="0.9" fill="#e0b020"/><rect x="276.3" y="162.9" width="1.7" height="1.0" fill="#1a0804"/><rect x="284.3" y="158.7" width="1.8" height="1.5" fill="#401408"/><rect x="276.8" y="142.2" width="1.5" height="1.1" fill="#b04c14"/><rect x="273.3" y="127.8" width="1.0" height="1.5" fill="#401408"/><rect x="282.3" y="129.0" width="1.5" height="1.7" fill="#d8901e"/><rect x="272.4" y="178.1" width="0.9" height="1.4" fill="#1a0804"/><rect x="285.2" y="151.2" width="1.1" height="1.2" fill="#c06a1c"/><rect x="270.8" y="177.4" width="1.6" height="1.0" fill="#401408"/><rect x="282.1" y="181.2" width="1.5" height="1.5" fill="#1a0804"/><rect x="286.8" y="137.5" width="1.8" height="1.5" fill="#c06a1c"/><rect x="276.2" y="182.3" width="1.7" height="1.9" fill="#1a0804"/><rect x="273.7" y="173.3" width="1.5" height="0.9" fill="#b04c14"/><rect x="283.4" y="181.2" width="1.1" height="1.4" fill="#401408"/><rect x="279.6" y="174.0" width="1.9" height="2.0" fill="#c06a1c"/><rect x="278.8" y="132.2" width="1.6" height="1.7" fill="#b04c14"/><rect x="285.1" y="158.4" width="1.2" height="1.4" fill="#9a4214"/><rect x="283.1" y="186.6" width="1.6" height="1.1" fill="#c06a1c"/><rect x="276.2" y="148.3" width="2.0" height="1.1" fill="#d8901e"/><rect x="270.8" y="147.6" width="0.9" height="1.2" fill="#1a0804"/><rect x="277.8" y="183.1" width="1.0" height="1.5" fill="#e0b020"/><rect x="272.1" y="173.7" width="2.0" height="1.6" fill="#e0b020"/><rect x="283.4" y="156.7" width="1.9" height="1.9" fill="#d8901e"/><rect x="285.6" y="168.3" width="1.4" height="1.7" fill="#b04c14"/><rect x="280.5" y="173.1" width="1.8" height="1.6" fill="#e0b020"/><rect x="270.9" y="152.9" width="1.5" height="1.6" fill="#401408"/><rect x="286.0" y="125.9" width="1.9" height="1.4" fill="#b04c14"/>
<text x="271.2" y="137.8" font-size="15" font-weight="bold" fill="#a9aeac" stroke="#120804" stroke-width="1" paint-order="stroke">國</text>
<text x="271.2" y="154.3" font-size="15" font-weight="bold" fill="#a9aeac" stroke="#120804" stroke-width="1" paint-order="stroke">寶</text>
<text x="271.2" y="170.8" font-size="15" font-weight="bold" fill="#a9aeac" stroke="#120804" stroke-width="1" paint-order="stroke">档</text>
<text x="271.2" y="187.3" font-size="15" font-weight="bold" fill="#a9aeac" stroke="#120804" stroke-width="1" paint-order="stroke">案</text>
<rect x="269" y="191.6" width="19.4" height="11.6" fill="#e00c14"/>
<text x="270.4" y="200.4" font-size="7.6" font-weight="bold" fill="#ffffff" textLength="16.6" lengthAdjust="spacingAndGlyphs">2013</text>
</svg></div>
<div class="frame f2" style="left:387px;top:59px;width:271px;height:195px">
<svg width="271" height="195" viewBox="387 59 271 195">
<defs><linearGradient id="fg-f2" gradientUnits="userSpaceOnUse" x1="388" y1="0" x2="655.3" y2="0"><stop offset="0" stop-color="#0d5bb3"/><stop offset="1" stop-color="#3793e1"/></linearGradient></defs>
<rect x="388" y="60.6" width="267.29999999999995" height="191.1" fill="url(#fg-f2)"/>
<rect x="393" y="65.6" width="257.29999999999995" height="181.1" fill="#ffffff"/>
<rect x="399.8" y="75.9" width="245.2" height="162.3" fill="#030303"/>
<rect x="403.3" y="78.2" width="238.2" height="157.3" fill="#ffffff"/>
<rect x="523.6" y="237.5" width="121.4" height="1.2" fill="#f4ee10"/>
<text x="418" y="237.6" font-size="2.4" fill="#bdbdbd" textLength="54" lengthAdjust="spacingAndGlyphs">Branch: Shanghai Branch office 081103</text>
<text x="489.8" y="100.2" font-size="8.4" fill="#ea2027" textLength="66.4" lengthAdjust="spacingAndGlyphs">耐酸碱自吸泵简介</text>
<rect x="467.5" y="102.9" width="111.3" height="0.7" fill="#a9a9a9"/>
<rect x="614.6" y="78.3" width="26.9" height="15.9" fill="#f01616"/>
<g stroke="#ffd8d8" stroke-width="0.6" opacity="0.8"><line x1="616.2" y1="79.4" x2="616.2" y2="93.4"/><line x1="617.9" y1="79.4" x2="617.9" y2="93.4"/><line x1="619.6" y1="79.4" x2="619.6" y2="93.4"/><line x1="621.3" y1="79.4" x2="621.3" y2="93.4"/><line x1="635.3" y1="79.4" x2="635.3" y2="93.4"/><line x1="637.0" y1="79.4" x2="637.0" y2="93.4"/><line x1="638.7" y1="79.4" x2="638.7" y2="93.4"/><line x1="640.4" y1="79.4" x2="640.4" y2="93.4"/></g>
<path fill="#ffffff" transform="translate(623.2 0) scale(0.9 1) translate(-623.2 0)" d="M623.2 79.9h3.8v5.6l4.5-5.6h4.2l-5.1 6 5.5 7.4h-4.5l-3.5-5.2-1.1 1.3v3.9h-3.8z"/>
<text x="614.8" y="98.7" font-size="3.3" font-weight="bold" fill="#111" textLength="26.6" lengthAdjust="spacingAndGlyphs">400-693-1358</text>
<text class="serif" x="411.2" y="113.4" font-size="4.5" font-weight="bold" fill="#141414" textLength="72" lengthAdjust="spacingAndGlyphs">葉輪的軸封設計-内裝強采用Teflon</text>
<text class="serif" x="411.2" y="120" font-size="4.5" font-weight="bold" fill="#141414" textLength="48.8" lengthAdjust="spacingAndGlyphs">Bellow seal自冷式設計.</text>
<text class="serif" x="411.2" y="134.4" font-size="4.5" font-weight="bold" fill="#141414" textLength="71" lengthAdjust="spacingAndGlyphs">自吸式設計-自吸力特別強勁，自吸</text>
<text class="serif" x="411.2" y="141" font-size="4.5" font-weight="bold" fill="#141414" textLength="71.3" lengthAdjust="spacingAndGlyphs">可達20尺，並有止回閥設計，防止</text>
<text class="serif" x="411.2" y="147.8" font-size="4.8" font-weight="bold" fill="#141414" textLength="36.8" lengthAdjust="spacingAndGlyphs">泵内液體流失.</text>
<text class="serif" x="411.2" y="160.5" font-size="4.5" font-weight="bold" fill="#141414" textLength="62.8" lengthAdjust="spacingAndGlyphs">耐強酸，耐強鹼，抗腐蝕性強.</text>
<text class="serif" x="411.2" y="167" font-size="4.5" font-weight="bold" fill="#141414" textLength="62.8" lengthAdjust="spacingAndGlyphs">材質有CFRPP FRPP CPVC PVDF.</text>
<text class="serif" x="411.2" y="185.6" font-size="4.5" font-weight="bold" fill="#141414" textLength="65" lengthAdjust="spacingAndGlyphs">入口需裝設底閥，以防擋異物吸</text>
<text class="serif" x="411.2" y="192.1" font-size="4.5" font-weight="bold" fill="#141414" textLength="65.6" lengthAdjust="spacingAndGlyphs">入. 出口需加裝逆止閥，以防止</text>
<text class="serif" x="411.2" y="198.6" font-size="4.5" font-weight="bold" fill="#141414" textLength="65.3" lengthAdjust="spacingAndGlyphs">管線路所產生瞬間回流現象，造</text>
<text class="serif" x="411.2" y="205.4" font-size="4.5" font-weight="bold" fill="#141414" textLength="65.5" lengthAdjust="spacingAndGlyphs">成泵體本身損壞，及泵浦空轉受</text>
<text class="serif" x="411.2" y="213" font-size="4.8" font-weight="bold" fill="#141414" textLength="8.3" lengthAdjust="spacingAndGlyphs">損.</text>
<defs><filter id="sh2" x="-50%" y="-50%" width="200%" height="200%"><feGaussianBlur stdDeviation="1.6"/></filter><radialGradient id="ball" cx="0.6" cy="0.4" r="0.75"><stop offset="0" stop-color="#ffffff"/><stop offset="0.7" stop-color="#f6f6f6"/><stop offset="1" stop-color="#cfcfcf"/></radialGradient></defs>
<path d="M508.2 114.4A62.4 62.4 0 0 0 506.7 206.2" fill="none" stroke="#8a8a8a" stroke-width="5" opacity="0.55" filter="url(#sh2)" transform="translate(-1.8,1.6)"/>
<path d="M508.2 114.4A62.4 62.4 0 0 0 506.7 206.2" fill="none" stroke="#5c5c5c" stroke-width="4.4"/>
<path d="M508.2 114.4A62.4 62.4 0 0 0 506.7 206.2" fill="none" stroke="#8c8c8c" stroke-width="1.3" transform="translate(0.8,0)"/>
<circle cx="506.0" cy="117.8" r="9.4" fill="#484848" opacity="0.78" filter="url(#sh2)"/>
<circle cx="488.4" cy="146.5" r="9.4" fill="#484848" opacity="0.78" filter="url(#sh2)"/>
<circle cx="488.2" cy="180.2" r="9.4" fill="#484848" opacity="0.78" filter="url(#sh2)"/>
<circle cx="502.7" cy="210.6" r="9.4" fill="#484848" opacity="0.78" filter="url(#sh2)"/>
<circle cx="508.6" cy="114.8" r="8.5" fill="url(#ball)"/>
<path fill="#ee2020" d="M505.40000000000003 118.39999999999999v-3.4h1.8v3.4zM507.6 118.39999999999999v-5.4h1.9v5.4zM509.90000000000003 118.39999999999999v-7.6h2v7.6z"/>
<path fill="#ee2020" d="M505.20000000000005 113.6l3.2-2.6 1.2 .9 2.4-2 .5 .6-2.9 2.5-1.2-.9-2.7 2.2z" opacity="0.85"/>
<circle cx="491.0" cy="143.5" r="8.5" fill="url(#ball)"/>
<path fill="#ee2020" d="M487.8 147.1v-3.4h1.8v3.4zM490.0 147.1v-5.4h1.9v5.4zM492.3 147.1v-7.6h2v7.6z"/>
<path fill="#ee2020" d="M487.6 142.3l3.2-2.6 1.2 .9 2.4-2 .5 .6-2.9 2.5-1.2-.9-2.7 2.2z" opacity="0.85"/>
<circle cx="490.8" cy="177.2" r="8.5" fill="url(#ball)"/>
<path fill="#ee2020" d="M487.6 180.79999999999998v-3.4h1.8v3.4zM489.8 180.79999999999998v-5.4h1.9v5.4zM492.1 180.79999999999998v-7.6h2v7.6z"/>
<path fill="#ee2020" d="M487.40000000000003 176.0l3.2-2.6 1.2 .9 2.4-2 .5 .6-2.9 2.5-1.2-.9-2.7 2.2z" opacity="0.85"/>
<circle cx="505.3" cy="207.6" r="8.5" fill="url(#ball)"/>
<path fill="#ee2020" d="M502.1 211.2v-3.4h1.8v3.4zM504.3 211.2v-5.4h1.9v5.4zM506.6 211.2v-7.6h2v7.6z"/>
<path fill="#ee2020" d="M501.90000000000003 206.4l3.2-2.6 1.2 .9 2.4-2 .5 .6-2.9 2.5-1.2-.9-2.7 2.2z" opacity="0.85"/>
<line x1="520.6" y1="126.1" x2="541.8" y2="135.1" stroke="#ee1c1c" stroke-width="1.7" stroke-dasharray="1.5 1.25"/>
<polygon fill="#ee1c1c" points="545.5,136.7 541.7,132.1 539.6,137.1"/>
<line x1="510.3" y1="150.4" x2="538.7" y2="152.5" stroke="#ee1c1c" stroke-width="1.7" stroke-dasharray="1.5 1.25"/>
<polygon fill="#ee1c1c" points="542.7,152.8 537.7,149.7 537.3,155.1"/>
<line x1="510.3" y1="177.2" x2="537.2" y2="174.3" stroke="#ee1c1c" stroke-width="1.7" stroke-dasharray="1.5 1.25"/>
<polygon fill="#ee1c1c" points="541.2,173.9 535.7,171.7 536.3,177.1"/>
<line x1="517.3" y1="202.2" x2="539.6" y2="195.0" stroke="#ee1c1c" stroke-width="1.7" stroke-dasharray="1.5 1.25"/>
<polygon fill="#ee1c1c" points="543.4,193.8 537.6,192.8 539.3,197.9"/>
<defs><linearGradient id="mot" x1="0" y1="0" x2="0" y2="1"><stop offset="0" stop-color="#ecece6"/><stop offset="0.3" stop-color="#d6d6ce"/><stop offset="0.7" stop-color="#a8a89e"/><stop offset="1" stop-color="#6a6a62"/></linearGradient><linearGradient id="fan" x1="0" y1="0" x2="1" y2="1"><stop offset="0" stop-color="#fbfbf8"/><stop offset="0.6" stop-color="#e4e4dc"/><stop offset="1" stop-color="#a6a69c"/></linearGradient><radialGradient id="pb" cx="0.5" cy="0.46" r="0.62"><stop offset="0" stop-color="#3f776e"/><stop offset="0.35" stop-color="#2a5952"/><stop offset="0.8" stop-color="#1c423d"/><stop offset="1" stop-color="#112b28"/></radialGradient><linearGradient id="gr" x1="0" y1="0" x2="0" y2="1"><stop offset="0" stop-color="#2f625b"/><stop offset="1" stop-color="#173632"/></linearGradient><filter id="bl1" x="-20%" y="-20%" width="140%" height="140%"><feGaussianBlur stdDeviation="0.5"/></filter></defs><polygon points="566.2,184.0 577.2,181.2 583.7,182.0 601.9,185.6 601.9,189.7 591.3,194.9 566.2,187.7" fill="#1c423e" /><polygon points="566.2,184.0 577.2,181.2 583.7,182.0 601.9,185.6 591.3,190.3 566.2,184.5" fill="#2e615a" /><polygon points="615.8,184.7 620.4,184.5 621.3,187.4 617.2,188.8" fill="#1a3d39" /><polygon points="553.1,147.3 558.9,145.8 574.2,146.3 585.2,149.8 586.3,168.4 582.3,175.7 575.0,178.0 557.5,174.5 552.8,171.3" fill="url(#mot)" /><g stroke="#66665e" stroke-width="0.62"><line x1="555.2" y1="146.9" x2="555.2" y2="174.0"/><line x1="556.4" y1="146.9" x2="556.4" y2="174.2"/><line x1="557.6" y1="146.9" x2="557.6" y2="174.4"/><line x1="558.8" y1="146.9" x2="558.8" y2="174.6"/><line x1="560.0" y1="147.0" x2="560.0" y2="174.8"/><line x1="561.3" y1="147.0" x2="561.3" y2="175.1"/><line x1="562.5" y1="147.0" x2="562.5" y2="175.3"/><line x1="563.7" y1="147.1" x2="563.7" y2="175.5"/><line x1="564.9" y1="147.1" x2="564.9" y2="175.7"/><line x1="566.2" y1="147.1" x2="566.2" y2="175.9"/><line x1="567.4" y1="147.2" x2="567.4" y2="176.1"/><line x1="568.6" y1="147.2" x2="568.6" y2="176.4"/><line x1="569.8" y1="147.2" x2="569.8" y2="176.6"/><line x1="571.1" y1="147.2" x2="571.1" y2="176.8"/><line x1="572.3" y1="147.3" x2="572.3" y2="177.0"/></g><ellipse cx="554.3" cy="160.0" rx="2.2" ry="14.4" fill="#4a4a45" /><ellipse cx="551.1" cy="159.7" rx="3.9" ry="13.6" fill="url(#fan)" /><polygon points="569.1,150.7 578.2,151.2 578.8,161.1 569.7,161.7" fill="#d4d4cb" /><polygon points="569.7,159.7 578.8,159.1 578.8,161.1 569.7,161.7" fill="#9c9c92" /><ellipse cx="572.3" cy="159.0" rx="1.0" ry="1.7" fill="#8a8a80" /><polygon points="557.5,174.5 575.0,178.0 582.3,175.7 583.7,173.1 575.0,175.1 558.2,172.2" fill="#6a6a62" opacity="0.7"/><polygon points="577.3,157.9 583.7,155.0 592.5,153.6 593.3,183.0 588.1,184.7 583.7,181.8 577.6,180.7 576.4,168.4" fill="url(#gr)" /><polygon points="578.2,159.1 583.7,156.5 583.7,179.5 578.2,178.6" fill="#356a62" opacity="0.55"/><polygon points="615.8,146.6 628.9,144.8 631.1,168.4 619.4,173.5" fill="#1f4742" /><ellipse cx="632.7" cy="154.7" rx="4.4" ry="14.3" fill="#1b403c" /><ellipse cx="633.3" cy="154.7" rx="2.8" ry="11.1" fill="#2f645d" /><ellipse cx="633.7" cy="154.7" rx="1.5" ry="7.3" fill="#12302d" /><polygon points="604.1,140.7 623.8,140.7 621.6,149.5 605.6,149.5" fill="#1d4440" /><path fill="url(#pb)" d="M591.3 149.5Q594.2 145.4 601.2 145.1Q612.9 144.2 619.4 150.9Q623.8 165.5 619.8 178.3Q612.9 187.4 601.2 187.1Q593.2 187.4 591.0 183.0Q589.5 166.2 591.3 149.5Z"/><ellipse cx="593.6" cy="166.4" rx="2.9" ry="19.5" fill="none" stroke="#163531" stroke-width="0.9"/><ellipse cx="613.9" cy="141.0" rx="12.2" ry="4.1" fill="#1c423e" /><ellipse cx="613.9" cy="140.2" rx="11.7" ry="3.5" fill="#2c5f58" /><ellipse cx="613.9" cy="139.9" rx="7.6" ry="2.0" fill="#153330" /><ellipse cx="613.9" cy="140.5" rx="5.8" ry="1.3" fill="#244f4a" /><ellipse cx="606.3" cy="164.8" rx="1.3" ry="3.5" fill="#b4dcd2" opacity="0.6" filter="url(#bl1)"/><ellipse cx="605.9" cy="164.3" rx="0.6" ry="1.7" fill="#ffffff" opacity="0.55" filter="url(#bl1)"/><ellipse cx="598.3" cy="147.2" rx="0.7" ry="0.7" fill="#a9c4be" opacity="0.85"/><ellipse cx="593.3" cy="159.1" rx="0.7" ry="0.7" fill="#a9c4be" opacity="0.85"/><ellipse cx="591.9" cy="175.1" rx="0.7" ry="0.7" fill="#a9c4be" opacity="0.85"/><ellipse cx="594.8" cy="186.2" rx="0.7" ry="0.7" fill="#a9c4be" opacity="0.85"/><ellipse cx="620.1" cy="159.1" rx="0.7" ry="0.7" fill="#a9c4be" opacity="0.85"/><ellipse cx="620.0" cy="166.4" rx="0.7" ry="0.7" fill="#a9c4be" opacity="0.85"/><ellipse cx="619.6" cy="173.1" rx="0.7" ry="0.7" fill="#a9c4be" opacity="0.85"/><ellipse cx="607.0" cy="146.3" rx="0.7" ry="0.7" fill="#a9c4be" opacity="0.85"/><ellipse cx="619.8" cy="150.7" rx="0.7" ry="0.7" fill="#a9c4be" opacity="0.85"/>
</svg></div>
<div class="caption" style="top:254px"><svg width="700" height="48" viewBox="0 254 700 48"><text x="104" y="287" font-size="32" font-weight="bold" fill="#0a0a0a" textLength="159.5" lengthAdjust="spacing">电子档型录</text><text x="396" y="287" font-size="32" font-weight="bold" fill="#0a0a0a" textLength="261.6" lengthAdjust="spacing">产品选型参数PPT</text></svg></div>
<div class="frame f3" style="left:50px;top:312px;width:271px;height:195px">
<svg width="271" height="195" viewBox="50 312 271 195">
<defs><linearGradient id="fg-f3" gradientUnits="userSpaceOnUse" x1="51" y1="0" x2="318.4" y2="0"><stop offset="0" stop-color="#0d5bb3"/><stop offset="1" stop-color="#3793e1"/></linearGradient></defs>
<rect x="51" y="313.5" width="267.4" height="191.3" fill="url(#fg-f3)"/>
<rect x="56" y="318.5" width="257.4" height="181.3" fill="#ffffff"/>
<rect x="62.5" y="328.2" width="245.5" height="0.7" fill="#d2d2d2"/>
<text class="serif" x="165.8" y="335.4" font-size="6.2" fill="#2a2a2a" textLength="53.8" lengthAdjust="spacing">泵性能试验</text>
<text x="101.5" y="343.2" font-size="2.7" fill="#333" textLength="15.2" lengthAdjust="spacingAndGlyphs">流量计系数</text>
<text class="" x="116.8" y="343.1" font-size="2.9" fill="#222" text-anchor="start" textLength="22.8" lengthAdjust="spacingAndGlyphs" font-weight="bold">(P)/106.7606</text>
<text x="101.5" y="348.2" font-size="2.7" fill="#333">泵</text>
<text class="" x="117.5" y="348.2" font-size="2.9" fill="#222" text-anchor="start" textLength="17.5" lengthAdjust="spacingAndGlyphs" font-weight="bold">Z=1 n=2900</text>
<text class="" x="63" y="345" font-size="2.6" fill="#222" text-anchor="start" textLength="5" lengthAdjust="spacingAndGlyphs" font-weight="bold">1608</text>
<text x="224.4" y="343.3" font-size="3" fill="#444" textLength="13.8" lengthAdjust="spacingAndGlyphs">入口口径</text>
<text class="" x="238.4" y="343.4" font-size="2.8" fill="#333" text-anchor="start" textLength="12.8" lengthAdjust="spacingAndGlyphs">(mm)  65A</text>
<text x="224.4" y="348.6" font-size="3" fill="#444" textLength="13.8" lengthAdjust="spacingAndGlyphs">出口口径</text>
<text class="" x="238.4" y="348.6" font-size="2.8" fill="#333" text-anchor="start" textLength="12.8" lengthAdjust="spacingAndGlyphs">(mm)  65A</text>
<rect x="62.5" y="350.3" width="245.5" height="1.1" fill="#1e1e1e"/>
<rect x="62.5" y="358.1" width="245.5" height="0.9" fill="#333333"/>
<rect x="62.5" y="368.85" width="245.5" height="0.9" fill="#333333"/>
<rect x="62.5" y="374.05" width="245.5" height="0.9" fill="#333333"/>
<rect x="62.5" y="379.15000000000003" width="245.5" height="0.9" fill="#333333"/>
<rect x="62.5" y="384.45" width="245.5" height="0.9" fill="#333333"/>
<rect x="62.5" y="389.65000000000003" width="245.5" height="0.9" fill="#333333"/>
<rect x="62.5" y="394.65000000000003" width="245.5" height="0.9" fill="#333333"/>
<rect x="62.5" y="399.6" width="245.5" height="1.1" fill="#1e1e1e"/>
<rect x="75.55" y="358.4" width="0.9" height="41.6" fill="#333333"/>
<rect x="101.05" y="358.4" width="0.9" height="41.6" fill="#333333"/>
<rect x="124.25" y="358.4" width="0.9" height="41.6" fill="#333333"/>
<rect x="173.45000000000002" y="358.4" width="0.9" height="41.6" fill="#333333"/>
<rect x="196.35000000000002" y="358.4" width="0.9" height="41.6" fill="#333333"/>
<rect x="220.75" y="358.4" width="0.9" height="41.6" fill="#333333"/>
<rect x="269.15000000000003" y="358.4" width="0.9" height="41.6" fill="#333333"/>
<rect x="293.45" y="358.4" width="0.9" height="41.6" fill="#333333"/>
<rect x="149.20000000000002" y="350.3" width="1.2" height="50" fill="#1e1e1e"/>
<rect x="245.1" y="350.3" width="1.2" height="50" fill="#1e1e1e"/>
<text x="66.4" y="355.8" font-size="3.6" fill="#333">测</text>
<text x="81.5" y="355.8" font-size="3.6" fill="#333">定</text>
<text x="96.9" y="355.8" font-size="3.6" fill="#333">数</text>
<text x="112.2" y="355.8" font-size="3.6" fill="#333">值</text>
<text x="171.2" y="355.8" font-size="3.6" fill="#333">计</text>
<text x="191" y="355.8" font-size="3.6" fill="#333">算</text>
<text x="210.8" y="355.8" font-size="3.6" fill="#333">值</text>
<text x="260.4" y="355.5" font-size="3.6" fill="#333" textLength="28.6" lengthAdjust="spacingAndGlyphs">转换到额定转速</text>
<text class="" x="289.3" y="355.4" font-size="3.4" fill="#111" text-anchor="start" textLength="18" lengthAdjust="spacingAndGlyphs" font-weight="bold">=2900.0</text>
<text x="62.8" y="363.1" font-size="3.5" fill="#333" textLength="7.7" lengthAdjust="spacingAndGlyphs">压力</text>
<text class="" x="63" y="367.6" font-size="3.2" fill="#333" text-anchor="start" textLength="7" lengthAdjust="spacingAndGlyphs" font-weight="bold">(Pa)</text>
<text x="82" y="363.1" font-size="3.5" fill="#333">流</text>
<text x="92.2" y="363.1" font-size="3.5" fill="#333">量</text>
<text class="" x="83.65" y="367.6" font-size="3.2" fill="#333" text-anchor="start" textLength="10.2" lengthAdjust="spacingAndGlyphs" font-weight="bold">(m³/h)</text>
<text x="106.8" y="363.1" font-size="3.5" fill="#333">转</text>
<text x="115.9" y="363.1" font-size="3.5" fill="#333">速</text>
<text class="" x="107.14999999999999" y="367.6" font-size="3.2" fill="#333" text-anchor="start" textLength="11.9" lengthAdjust="spacingAndGlyphs" font-weight="bold">(r/min)</text>
<text x="128.9" y="363.1" font-size="3.5" fill="#333" textLength="16.8" lengthAdjust="spacingAndGlyphs">输入功率</text>
<text class="" x="134.7" y="367.6" font-size="3.2" fill="#333" text-anchor="start" textLength="5.1" lengthAdjust="spacingAndGlyphs" font-weight="bold">(W)</text>
<text x="153.9" y="363.1" font-size="3.5" fill="#333">输</text>
<text x="160.2" y="363.1" font-size="3.5" fill="#333">功</text>
<text x="166.5" y="363.1" font-size="3.5" fill="#333">率</text>
<text class="" x="159.3" y="367.6" font-size="3.2" fill="#333" text-anchor="start" textLength="5.1" lengthAdjust="spacingAndGlyphs" font-weight="bold">(W)</text>
<text x="181.2" y="363.1" font-size="3.5" fill="#333" textLength="8.8" lengthAdjust="spacingAndGlyphs">扬程</text>
<text class="" x="182.8" y="367.6" font-size="3.2" fill="#333" text-anchor="start" textLength="5.1" lengthAdjust="spacingAndGlyphs" font-weight="bold">(m)</text>
<text x="200.8" y="363.1" font-size="3.5" fill="#333">水</text>
<text x="207.3" y="363.1" font-size="3.5" fill="#333">功</text>
<text x="213.7" y="363.1" font-size="3.5" fill="#333">率</text>
<text class="" x="206.45" y="367.6" font-size="3.2" fill="#333" text-anchor="start" textLength="5.1" lengthAdjust="spacingAndGlyphs" font-weight="bold">(W)</text>
<text x="224.8" y="363.1" font-size="3.5" fill="#333" textLength="17.2" lengthAdjust="spacingAndGlyphs">机组效率</text>
<text class="" x="230.89999999999998" y="367.6" font-size="3.2" fill="#333" text-anchor="start" textLength="5.1" lengthAdjust="spacingAndGlyphs" font-weight="bold">(%)</text>
<text x="253.7" y="363.1" font-size="3.5" fill="#333" textLength="7.9" lengthAdjust="spacingAndGlyphs">流量</text>
<text class="" x="252.54999999999998" y="367.6" font-size="3.2" fill="#333" text-anchor="start" textLength="10.2" lengthAdjust="spacingAndGlyphs" font-weight="bold">(m³/h)</text>
<text x="277.6" y="363.1" font-size="3.5" fill="#333" textLength="8.9" lengthAdjust="spacingAndGlyphs">扬程</text>
<text class="" x="279.2" y="367.6" font-size="3.2" fill="#333" text-anchor="start" textLength="5.1" lengthAdjust="spacingAndGlyphs" font-weight="bold">(m)</text>
<text x="297.3" y="363.1" font-size="3.5" fill="#333" textLength="7.7" lengthAdjust="spacingAndGlyphs">输功</text>
<text class="" x="298.4" y="367.6" font-size="3.2" fill="#333" text-anchor="start" textLength="5.1" lengthAdjust="spacingAndGlyphs" font-weight="bold">(W)</text>
<text class="serif" x="63" y="373.0" font-size="4.1" fill="#1a1a1a" text-anchor="start" textLength="7.0" lengthAdjust="spacingAndGlyphs">7.05</text>
<text class="serif" x="85.2" y="373.0" font-size="4.1" fill="#1a1a1a" text-anchor="start" textLength="7.0" lengthAdjust="spacingAndGlyphs">1.44</text>
<text class="serif" x="107.0" y="373.0" font-size="4.1" fill="#1a1a1a" text-anchor="start" textLength="12.2" lengthAdjust="spacingAndGlyphs">2961.56</text>
<text class="serif" x="131.1" y="373.0" font-size="4.1" fill="#1a1a1a" text-anchor="start" textLength="12.2" lengthAdjust="spacingAndGlyphs">1146.77</text>
<text class="serif" x="155.7" y="373.0" font-size="4.1" fill="#1a1a1a" text-anchor="start" textLength="12.2" lengthAdjust="spacingAndGlyphs">1376.20</text>
<text class="serif" x="181.0" y="373.0" font-size="4.1" fill="#1a1a1a" text-anchor="start" textLength="8.8" lengthAdjust="spacingAndGlyphs">18.64</text>
<text class="serif" x="204.6" y="373.0" font-size="4.1" fill="#1a1a1a" text-anchor="start" textLength="8.8" lengthAdjust="spacingAndGlyphs">33.42</text>
<text class="serif" x="229.9" y="373.0" font-size="4.1" fill="#1a1a1a" text-anchor="start" textLength="7.0" lengthAdjust="spacingAndGlyphs">3.44</text>
<text class="serif" x="254.1" y="373.0" font-size="4.1" fill="#1a1a1a" text-anchor="start" textLength="7.0" lengthAdjust="spacingAndGlyphs">1.34</text>
<text class="serif" x="279.4" y="373.0" font-size="4.1" fill="#1a1a1a" text-anchor="start" textLength="8.8" lengthAdjust="spacingAndGlyphs">16.42</text>
<text class="serif" x="298.9" y="373.0" font-size="4.1" fill="#1a1a1a" text-anchor="start" textLength="7.0" lengthAdjust="spacingAndGlyphs">1375</text>
<text class="serif" x="63" y="378.2" font-size="4.1" fill="#1a1a1a" text-anchor="start" textLength="7.0" lengthAdjust="spacingAndGlyphs">6.97</text>
<text class="serif" x="85.2" y="378.2" font-size="4.1" fill="#1a1a1a" text-anchor="start" textLength="7.0" lengthAdjust="spacingAndGlyphs">5.12</text>
<text class="serif" x="107.0" y="378.2" font-size="4.1" fill="#1a1a1a" text-anchor="start" textLength="12.2" lengthAdjust="spacingAndGlyphs">2966.71</text>
<text class="serif" x="131.1" y="378.2" font-size="4.1" fill="#1a1a1a" text-anchor="start" textLength="12.2" lengthAdjust="spacingAndGlyphs">1324.54</text>
<text class="serif" x="155.7" y="378.2" font-size="4.1" fill="#1a1a1a" text-anchor="start" textLength="12.2" lengthAdjust="spacingAndGlyphs">1446.77</text>
<text class="serif" x="181.0" y="378.2" font-size="4.1" fill="#1a1a1a" text-anchor="start" textLength="8.8" lengthAdjust="spacingAndGlyphs">17.94</text>
<text class="serif" x="203.8" y="378.2" font-size="4.1" fill="#1a1a1a" text-anchor="start" textLength="10.5" lengthAdjust="spacingAndGlyphs">151.55</text>
<text class="serif" x="229.9" y="378.2" font-size="4.1" fill="#1a1a1a" text-anchor="start" textLength="7.0" lengthAdjust="spacingAndGlyphs">9.94</text>
<text class="serif" x="254.1" y="378.2" font-size="4.1" fill="#1a1a1a" text-anchor="start" textLength="7.0" lengthAdjust="spacingAndGlyphs">3.15</text>
<text class="serif" x="279.4" y="378.2" font-size="4.1" fill="#1a1a1a" text-anchor="start" textLength="8.8" lengthAdjust="spacingAndGlyphs">17.49</text>
<text class="serif" x="298.9" y="378.2" font-size="4.1" fill="#1a1a1a" text-anchor="start" textLength="7.0" lengthAdjust="spacingAndGlyphs">1455</text>
<text class="serif" x="63" y="383.29999999999995" font-size="4.1" fill="#1a1a1a" text-anchor="start" textLength="7.0" lengthAdjust="spacingAndGlyphs">6.63</text>
<text class="serif" x="85.2" y="383.29999999999995" font-size="4.1" fill="#1a1a1a" text-anchor="start" textLength="7.0" lengthAdjust="spacingAndGlyphs">6.34</text>
<text class="serif" x="107.0" y="383.29999999999995" font-size="4.1" fill="#1a1a1a" text-anchor="start" textLength="12.2" lengthAdjust="spacingAndGlyphs">2966.49</text>
<text class="serif" x="131.1" y="383.29999999999995" font-size="4.1" fill="#1a1a1a" text-anchor="start" textLength="12.2" lengthAdjust="spacingAndGlyphs">1414.56</text>
<text class="serif" x="155.7" y="383.29999999999995" font-size="4.1" fill="#1a1a1a" text-anchor="start" textLength="12.2" lengthAdjust="spacingAndGlyphs">1530.15</text>
<text class="serif" x="181.0" y="383.29999999999995" font-size="4.1" fill="#1a1a1a" text-anchor="start" textLength="8.8" lengthAdjust="spacingAndGlyphs">16.77</text>
<text class="serif" x="203.8" y="383.29999999999995" font-size="4.1" fill="#1a1a1a" text-anchor="start" textLength="10.5" lengthAdjust="spacingAndGlyphs">291.19</text>
<text class="serif" x="229.1" y="383.29999999999995" font-size="4.1" fill="#1a1a1a" text-anchor="start" textLength="8.8" lengthAdjust="spacingAndGlyphs">17.42</text>
<text class="serif" x="254.1" y="383.29999999999995" font-size="4.1" fill="#1a1a1a" text-anchor="start" textLength="7.0" lengthAdjust="spacingAndGlyphs">6.18</text>
<text class="serif" x="279.4" y="383.29999999999995" font-size="4.1" fill="#1a1a1a" text-anchor="start" textLength="8.8" lengthAdjust="spacingAndGlyphs">16.91</text>
<text class="serif" x="298.9" y="383.29999999999995" font-size="4.1" fill="#1a1a1a" text-anchor="start" textLength="7.0" lengthAdjust="spacingAndGlyphs">1596</text>
<text class="serif" x="63" y="388.59999999999997" font-size="4.1" fill="#1a1a1a" text-anchor="start" textLength="7.0" lengthAdjust="spacingAndGlyphs">6.42</text>
<text class="serif" x="85.2" y="388.59999999999997" font-size="4.1" fill="#1a1a1a" text-anchor="start" textLength="7.0" lengthAdjust="spacingAndGlyphs">9.16</text>
<text class="serif" x="107.0" y="388.59999999999997" font-size="4.1" fill="#1a1a1a" text-anchor="start" textLength="12.2" lengthAdjust="spacingAndGlyphs">2961.20</text>
<text class="serif" x="131.1" y="388.59999999999997" font-size="4.1" fill="#1a1a1a" text-anchor="start" textLength="12.2" lengthAdjust="spacingAndGlyphs">1605.75</text>
<text class="serif" x="155.7" y="388.59999999999997" font-size="4.1" fill="#1a1a1a" text-anchor="start" textLength="12.2" lengthAdjust="spacingAndGlyphs">1624.30</text>
<text class="serif" x="181.0" y="388.59999999999997" font-size="4.1" fill="#1a1a1a" text-anchor="start" textLength="8.8" lengthAdjust="spacingAndGlyphs">15.26</text>
<text class="serif" x="203.8" y="388.59999999999997" font-size="4.1" fill="#1a1a1a" text-anchor="start" textLength="10.5" lengthAdjust="spacingAndGlyphs">390.24</text>
<text class="serif" x="229.1" y="388.59999999999997" font-size="4.1" fill="#1a1a1a" text-anchor="start" textLength="8.8" lengthAdjust="spacingAndGlyphs">22.41</text>
<text class="serif" x="254.1" y="388.59999999999997" font-size="4.1" fill="#1a1a1a" text-anchor="start" textLength="7.0" lengthAdjust="spacingAndGlyphs">9.26</text>
<text class="serif" x="279.4" y="388.59999999999997" font-size="4.1" fill="#1a1a1a" text-anchor="start" textLength="8.8" lengthAdjust="spacingAndGlyphs">15.49</text>
<text class="serif" x="298.9" y="388.59999999999997" font-size="4.1" fill="#1a1a1a" text-anchor="start" textLength="7.0" lengthAdjust="spacingAndGlyphs">1626</text>
<text class="serif" x="63" y="393.7" font-size="4.1" fill="#1a1a1a" text-anchor="start" textLength="7.0" lengthAdjust="spacingAndGlyphs">5.61</text>
<text class="serif" x="84.4" y="393.7" font-size="4.1" fill="#1a1a1a" text-anchor="start" textLength="8.8" lengthAdjust="spacingAndGlyphs">12.00</text>
<text class="serif" x="107.0" y="393.7" font-size="4.1" fill="#1a1a1a" text-anchor="start" textLength="12.2" lengthAdjust="spacingAndGlyphs">2954.20</text>
<text class="serif" x="131.1" y="393.7" font-size="4.1" fill="#1a1a1a" text-anchor="start" textLength="12.2" lengthAdjust="spacingAndGlyphs">1750.37</text>
<text class="serif" x="155.7" y="393.7" font-size="4.1" fill="#1a1a1a" text-anchor="start" textLength="12.2" lengthAdjust="spacingAndGlyphs">2000.60</text>
<text class="serif" x="181.0" y="393.7" font-size="4.1" fill="#1a1a1a" text-anchor="start" textLength="8.8" lengthAdjust="spacingAndGlyphs">14.06</text>
<text class="serif" x="203.8" y="393.7" font-size="4.1" fill="#1a1a1a" text-anchor="start" textLength="10.5" lengthAdjust="spacingAndGlyphs">462.64</text>
<text class="serif" x="229.1" y="393.7" font-size="4.1" fill="#1a1a1a" text-anchor="start" textLength="8.8" lengthAdjust="spacingAndGlyphs">26.20</text>
<text class="serif" x="253.3" y="393.7" font-size="4.1" fill="#1a1a1a" text-anchor="start" textLength="8.8" lengthAdjust="spacingAndGlyphs">12.13</text>
<text class="serif" x="279.4" y="393.7" font-size="4.1" fill="#1a1a1a" text-anchor="start" textLength="8.8" lengthAdjust="spacingAndGlyphs">14.21</text>
<text class="serif" x="298.9" y="393.7" font-size="4.1" fill="#1a1a1a" text-anchor="start" textLength="7.0" lengthAdjust="spacingAndGlyphs">1795</text>
<text class="serif" x="63" y="398.7" font-size="4.1" fill="#1a1a1a" text-anchor="start" textLength="7.0" lengthAdjust="spacingAndGlyphs">5.26</text>
<text class="serif" x="84.4" y="398.7" font-size="4.1" fill="#1a1a1a" text-anchor="start" textLength="8.8" lengthAdjust="spacingAndGlyphs">13.93</text>
<text class="serif" x="107.0" y="398.7" font-size="4.1" fill="#1a1a1a" text-anchor="start" textLength="12.2" lengthAdjust="spacingAndGlyphs">2955.03</text>
<text class="serif" x="131.1" y="398.7" font-size="4.1" fill="#1a1a1a" text-anchor="start" textLength="12.2" lengthAdjust="spacingAndGlyphs">1856.93</text>
<text class="serif" x="155.7" y="398.7" font-size="4.1" fill="#1a1a1a" text-anchor="start" textLength="12.2" lengthAdjust="spacingAndGlyphs">1744.21</text>
<text class="serif" x="181.0" y="398.7" font-size="4.1" fill="#1a1a1a" text-anchor="start" textLength="8.8" lengthAdjust="spacingAndGlyphs">10.59</text>
<text class="serif" x="203.8" y="398.7" font-size="4.1" fill="#1a1a1a" text-anchor="start" textLength="10.5" lengthAdjust="spacingAndGlyphs">463.31</text>
<text class="serif" x="229.1" y="398.7" font-size="4.1" fill="#1a1a1a" text-anchor="start" textLength="8.8" lengthAdjust="spacingAndGlyphs">24.99</text>
<text class="serif" x="253.3" y="398.7" font-size="4.1" fill="#1a1a1a" text-anchor="start" textLength="8.8" lengthAdjust="spacingAndGlyphs">16.12</text>
<text class="serif" x="279.4" y="398.7" font-size="4.1" fill="#1a1a1a" text-anchor="start" textLength="8.8" lengthAdjust="spacingAndGlyphs">10.99</text>
<text class="serif" x="298.9" y="398.7" font-size="4.1" fill="#1a1a1a" text-anchor="start" textLength="7.0" lengthAdjust="spacingAndGlyphs">1995</text>
<g stroke="#a59f9b" stroke-width="0.75"><line x1="108.90" y1="408.8" x2="108.90" y2="490.0"/><line x1="116.02" y1="408.8" x2="116.02" y2="490.0"/><line x1="123.13" y1="408.8" x2="123.13" y2="490.0"/><line x1="130.25" y1="408.8" x2="130.25" y2="490.0"/><line x1="137.36" y1="408.8" x2="137.36" y2="490.0"/><line x1="144.47" y1="408.8" x2="144.47" y2="490.0"/><line x1="151.59" y1="408.8" x2="151.59" y2="490.0"/><line x1="158.70" y1="408.8" x2="158.70" y2="490.0"/><line x1="165.82" y1="408.8" x2="165.82" y2="490.0"/><line x1="172.94" y1="408.8" x2="172.94" y2="490.0"/><line x1="180.05" y1="408.8" x2="180.05" y2="490.0"/><line x1="187.16" y1="408.8" x2="187.16" y2="490.0"/><line x1="194.28" y1="408.8" x2="194.28" y2="490.0"/><line x1="201.39" y1="408.8" x2="201.39" y2="490.0"/><line x1="208.51" y1="408.8" x2="208.51" y2="490.0"/><line x1="215.62" y1="408.8" x2="215.62" y2="490.0"/><line x1="222.74" y1="408.8" x2="222.74" y2="490.0"/><line x1="229.86" y1="408.8" x2="229.86" y2="490.0"/><line x1="236.97" y1="408.8" x2="236.97" y2="490.0"/><line x1="244.09" y1="408.8" x2="244.09" y2="490.0"/><line x1="251.20" y1="408.8" x2="251.20" y2="490.0"/><line x1="108.9" y1="408.80" x2="251.2" y2="408.80"/><line x1="108.9" y1="415.57" x2="251.2" y2="415.57"/><line x1="108.9" y1="422.33" x2="251.2" y2="422.33"/><line x1="108.9" y1="429.10" x2="251.2" y2="429.10"/><line x1="108.9" y1="435.87" x2="251.2" y2="435.87"/><line x1="108.9" y1="442.63" x2="251.2" y2="442.63"/><line x1="108.9" y1="449.40" x2="251.2" y2="449.40"/><line x1="108.9" y1="456.17" x2="251.2" y2="456.17"/><line x1="108.9" y1="462.93" x2="251.2" y2="462.93"/><line x1="108.9" y1="469.70" x2="251.2" y2="469.70"/><line x1="108.9" y1="476.47" x2="251.2" y2="476.47"/><line x1="108.9" y1="483.23" x2="251.2" y2="483.23"/><line x1="108.9" y1="490.00" x2="251.2" y2="490.00"/></g>
<g stroke="#333" stroke-width="0.6"><line x1="91.8" y1="408.8" x2="91.8" y2="476.2"/><line x1="68.6" y1="476.2" x2="68.6" y2="490"/><line x1="268" y1="408.6" x2="268" y2="476.2"/><line x1="90.4" y1="408.8" x2="91.8" y2="408.8"/><line x1="266.6" y1="408.8" x2="268" y2="408.8"/><line x1="90.4" y1="415.5" x2="91.8" y2="415.5"/><line x1="266.6" y1="415.5" x2="268" y2="415.5"/><line x1="90.4" y1="422.3" x2="91.8" y2="422.3"/><line x1="266.6" y1="422.3" x2="268" y2="422.3"/><line x1="90.4" y1="429.0" x2="91.8" y2="429.0"/><line x1="266.6" y1="429.0" x2="268" y2="429.0"/><line x1="90.4" y1="435.8" x2="91.8" y2="435.8"/><line x1="266.6" y1="435.8" x2="268" y2="435.8"/><line x1="90.4" y1="442.5" x2="91.8" y2="442.5"/><line x1="266.6" y1="442.5" x2="268" y2="442.5"/><line x1="90.4" y1="449.2" x2="91.8" y2="449.2"/><line x1="266.6" y1="449.2" x2="268" y2="449.2"/><line x1="90.4" y1="456.0" x2="91.8" y2="456.0"/><line x1="266.6" y1="456.0" x2="268" y2="456.0"/><line x1="90.4" y1="462.7" x2="91.8" y2="462.7"/><line x1="266.6" y1="462.7" x2="268" y2="462.7"/><line x1="90.4" y1="469.5" x2="91.8" y2="469.5"/><line x1="266.6" y1="469.5" x2="268" y2="469.5"/><line x1="90.4" y1="476.2" x2="91.8" y2="476.2"/><line x1="266.6" y1="476.2" x2="268" y2="476.2"/><line x1="67.2" y1="476.2" x2="68.6" y2="476.2"/><line x1="67.2" y1="483" x2="68.6" y2="483"/><line x1="67.2" y1="489.8" x2="68.6" y2="489.8"/></g>
<text class="" x="92.6" y="409.8" font-size="2.8" fill="#222" text-anchor="start" textLength="2.8" lengthAdjust="spacingAndGlyphs" font-weight="bold">20</text><text class="" x="92.6" y="416.5" font-size="2.8" fill="#222" text-anchor="start" textLength="2.8" lengthAdjust="spacingAndGlyphs" font-weight="bold">18</text><text class="" x="92.6" y="423.3" font-size="2.8" fill="#222" text-anchor="start" textLength="2.8" lengthAdjust="spacingAndGlyphs" font-weight="bold">16</text><text class="" x="92.6" y="430.0" font-size="2.8" fill="#222" text-anchor="start" textLength="2.8" lengthAdjust="spacingAndGlyphs" font-weight="bold">14</text><text class="" x="92.6" y="436.8" font-size="2.8" fill="#222" text-anchor="start" textLength="2.8" lengthAdjust="spacingAndGlyphs" font-weight="bold">12</text><text class="" x="92.6" y="443.5" font-size="2.8" fill="#222" text-anchor="start" textLength="2.8" lengthAdjust="spacingAndGlyphs" font-weight="bold">10</text><text class="" x="92.6" y="450.2" font-size="2.8" fill="#222" text-anchor="start" textLength="1.4" lengthAdjust="spacingAndGlyphs" font-weight="bold">8</text><text class="" x="92.6" y="457.0" font-size="2.8" fill="#222" text-anchor="start" textLength="1.4" lengthAdjust="spacingAndGlyphs" font-weight="bold">6</text><text class="" x="92.6" y="463.7" font-size="2.8" fill="#222" text-anchor="start" textLength="1.4" lengthAdjust="spacingAndGlyphs" font-weight="bold">4</text><text class="" x="92.6" y="470.5" font-size="2.8" fill="#222" text-anchor="start" textLength="1.4" lengthAdjust="spacingAndGlyphs" font-weight="bold">2</text><text class="" x="92.6" y="477.2" font-size="2.8" fill="#222" text-anchor="start" textLength="1.4" lengthAdjust="spacingAndGlyphs" font-weight="bold">0</text><text class="" x="96.5" y="409.8" font-size="2.8" fill="#222" text-anchor="start" textLength="6.4" lengthAdjust="spacingAndGlyphs" font-weight="bold">H(m)</text><text class="" x="268.8" y="409.6" font-size="2.8" fill="#222" text-anchor="start" textLength="2.8" lengthAdjust="spacingAndGlyphs" font-weight="bold">30</text><text class="" x="268.8" y="416.3" font-size="2.8" fill="#222" text-anchor="start" textLength="2.8" lengthAdjust="spacingAndGlyphs" font-weight="bold">27</text><text class="" x="268.8" y="423.1" font-size="2.8" fill="#222" text-anchor="start" textLength="2.8" lengthAdjust="spacingAndGlyphs" font-weight="bold">24</text><text class="" x="268.8" y="429.8" font-size="2.8" fill="#222" text-anchor="start" textLength="2.8" lengthAdjust="spacingAndGlyphs" font-weight="bold">21</text><text class="" x="268.8" y="436.6" font-size="2.8" fill="#222" text-anchor="start" textLength="2.8" lengthAdjust="spacingAndGlyphs" font-weight="bold">18</text><text class="" x="268.8" y="443.3" font-size="2.8" fill="#222" text-anchor="start" textLength="2.8" lengthAdjust="spacingAndGlyphs" font-weight="bold">15</text><text class="" x="268.8" y="450.0" font-size="2.8" fill="#222" text-anchor="start" textLength="2.8" lengthAdjust="spacingAndGlyphs" font-weight="bold">12</text><text class="" x="268.8" y="456.8" font-size="2.8" fill="#222" text-anchor="start" textLength="1.4" lengthAdjust="spacingAndGlyphs" font-weight="bold">9</text><text class="" x="268.8" y="463.5" font-size="2.8" fill="#222" text-anchor="start" textLength="1.4" lengthAdjust="spacingAndGlyphs" font-weight="bold">6</text><text class="" x="268.8" y="470.3" font-size="2.8" fill="#222" text-anchor="start" textLength="1.4" lengthAdjust="spacingAndGlyphs" font-weight="bold">3</text><text class="" x="268.8" y="477.0" font-size="2.8" fill="#222" text-anchor="start" textLength="1.4" lengthAdjust="spacingAndGlyphs" font-weight="bold">0</text><text class="" x="272.5" y="409.8" font-size="2.8" fill="#222" text-anchor="start" textLength="8.4" lengthAdjust="spacingAndGlyphs" font-weight="bold">EF(%)</text><text class="" x="69.4" y="477.2" font-size="2.8" fill="#222" text-anchor="start" textLength="15" lengthAdjust="spacingAndGlyphs" font-weight="bold">1000 P(W)</text><text class="" x="69.4" y="484" font-size="2.8" fill="#222" text-anchor="start" textLength="4.6" lengthAdjust="spacingAndGlyphs" font-weight="bold">520</text><text class="" x="69.4" y="490.6" font-size="2.8" fill="#222" text-anchor="start" textLength="4.6" lengthAdjust="spacingAndGlyphs" font-weight="bold">140</text>
<g fill="none" stroke="#4a4a4a" stroke-width="0.75"><path d="M117.3 414.5C140 416.6 165 419.8 186 422.9C205 426.2 228 433.4 245.1 440.6"/><path d="M117.3 468.7C135 449 160 430.5 186 422.6C200 417.6 212 414 222.1 413.8C232 414 238 415.6 244.1 417.6"/><path d="M117.3 485.8C150 484 200 480.5 244.1 477.5"/></g>
<rect x="116.7" y="413.9" width="1.2" height="1.2" fill="#333"/>
<rect x="116.7" y="468.09999999999997" width="1.2" height="1.2" fill="#333"/>
<rect x="116.7" y="485.2" width="1.2" height="1.2" fill="#333"/>
<rect x="243.5" y="417.0" width="1.2" height="1.2" fill="#333"/>
<rect x="244.5" y="440.0" width="1.2" height="1.2" fill="#333"/>
<rect x="243.5" y="476.9" width="1.2" height="1.2" fill="#333"/>
<text class="" x="245.6" y="418.8" font-size="2.8" fill="#222" text-anchor="start" textLength="3" lengthAdjust="spacingAndGlyphs" font-weight="bold">EF</text>
<text class="" x="246.4" y="442" font-size="2.8" fill="#222" text-anchor="start" textLength="1.6" lengthAdjust="spacingAndGlyphs" font-weight="bold">H</text>
<text class="" x="245.6" y="479" font-size="2.8" fill="#222" text-anchor="start" textLength="1.6" lengthAdjust="spacingAndGlyphs" font-weight="bold">P</text>
</svg></div>
<div class="frame f4" style="left:387px;top:312px;width:271px;height:195px">
<svg width="271" height="195" viewBox="387 312 271 195">
<defs><linearGradient id="fg-f4" gradientUnits="userSpaceOnUse" x1="388" y1="0" x2="655.3" y2="0"><stop offset="0" stop-color="#0d5bb3"/><stop offset="1" stop-color="#3793e1"/></linearGradient></defs>
<rect x="388" y="313.5" width="267.29999999999995" height="191.3" fill="url(#fg-f4)"/>
<rect x="393" y="318.5" width="257.29999999999995" height="181.3" fill="#ffffff"/>
<rect x="399.2" y="328.85" width="242.00000000000006" height="0.9" fill="#555555"/>
<rect x="399.2" y="339.49" width="242.00000000000006" height="0.9" fill="#555555"/>
<rect x="399.2" y="350.13" width="242.00000000000006" height="0.9" fill="#555555"/>
<rect x="399.2" y="360.77" width="242.00000000000006" height="0.9" fill="#555555"/>
<rect x="399.2" y="371.41" width="242.00000000000006" height="0.9" fill="#555555"/>
<rect x="399.2" y="382.05" width="242.00000000000006" height="0.9" fill="#555555"/>
<rect x="399.2" y="392.69" width="242.00000000000006" height="0.9" fill="#555555"/>
<rect x="399.2" y="403.33" width="242.00000000000006" height="0.9" fill="#555555"/>
<rect x="399.2" y="413.97" width="242.00000000000006" height="0.9" fill="#555555"/>
<rect x="399.2" y="424.61" width="242.00000000000006" height="0.9" fill="#555555"/>
<rect x="399.2" y="435.25" width="242.00000000000006" height="0.9" fill="#555555"/>
<rect x="399.2" y="445.89" width="242.00000000000006" height="0.9" fill="#555555"/>
<rect x="399.2" y="456.53" width="242.00000000000006" height="0.9" fill="#555555"/>
<rect x="399.2" y="467.17" width="242.00000000000006" height="0.9" fill="#555555"/>
<rect x="399.2" y="477.81" width="242.00000000000006" height="0.9" fill="#555555"/>
<rect x="399.2" y="488.45" width="242.00000000000006" height="0.9" fill="#555555"/>
<rect x="421.8" y="327.8" width="0.8" height="161.79999999999995" fill="#444"/>
<rect x="508.20000000000005" y="327.8" width="0.8" height="161.79999999999995" fill="#444"/>
<rect x="595.4" y="327.8" width="0.8" height="161.79999999999995" fill="#444"/>
<rect x="641.2" y="328.1" width="3.8" height="162.29999999999995" fill="#2f9c60"/>
<rect x="641.2" y="328.90" width="3.8" height="0.8" fill="#1c6a3e"/><rect x="641.2" y="339.54" width="3.8" height="0.8" fill="#1c6a3e"/><rect x="641.2" y="350.18" width="3.8" height="0.8" fill="#1c6a3e"/><rect x="641.2" y="360.82" width="3.8" height="0.8" fill="#1c6a3e"/><rect x="641.2" y="371.46" width="3.8" height="0.8" fill="#1c6a3e"/><rect x="641.2" y="382.10" width="3.8" height="0.8" fill="#1c6a3e"/><rect x="641.2" y="392.74" width="3.8" height="0.8" fill="#1c6a3e"/><rect x="641.2" y="403.38" width="3.8" height="0.8" fill="#1c6a3e"/><rect x="641.2" y="414.02" width="3.8" height="0.8" fill="#1c6a3e"/><rect x="641.2" y="424.66" width="3.8" height="0.8" fill="#1c6a3e"/><rect x="641.2" y="435.30" width="3.8" height="0.8" fill="#1c6a3e"/><rect x="641.2" y="445.94" width="3.8" height="0.8" fill="#1c6a3e"/><rect x="641.2" y="456.58" width="3.8" height="0.8" fill="#1c6a3e"/><rect x="641.2" y="467.22" width="3.8" height="0.8" fill="#1c6a3e"/><rect x="641.2" y="477.86" width="3.8" height="0.8" fill="#1c6a3e"/><rect x="641.2" y="488.50" width="3.8" height="0.8" fill="#1c6a3e"/>
<rect x="424.5" y="327.6" width="30" height="1.1" fill="#777" opacity="0.55"/>
<rect x="510" y="327.8" width="40" height="0.9" fill="#777" opacity="0.4"/>
<defs><clipPath id="c4"><rect x="399.2" y="320" width="300" height="180"/></clipPath></defs>
<g clip-path="url(#c4)"><text x="396.6" y="338.39" font-size="7.4" fill="#1e1e1e" text-anchor="start" textLength="19.6" lengthAdjust="spacingAndGlyphs">360005</text></g>
<text x="509.8" y="338.39" font-size="7.4" fill="#1e1e1e" text-anchor="start" textLength="42.4" lengthAdjust="spacingAndGlyphs">KA-2101 SUS304</text>
<text x="640.4" y="338.39" font-size="7.4" fill="#1e1e1e" text-anchor="end" textLength="11.6" lengthAdjust="spacingAndGlyphs">2240</text>
<g clip-path="url(#c4)"><text x="396.6" y="349.03" font-size="7.4" fill="#1e1e1e" text-anchor="start" textLength="19.6" lengthAdjust="spacingAndGlyphs">360006</text></g>
<text x="509.8" y="349.03" font-size="7.4" fill="#1e1e1e" text-anchor="start" textLength="67.6" lengthAdjust="spacingAndGlyphs">BA-3305-5-C-380-4 SUS304</text>
<text x="640.4" y="349.03" font-size="7.4" fill="#1e1e1e" text-anchor="end" textLength="11.6" lengthAdjust="spacingAndGlyphs">4760</text>
<g clip-path="url(#c4)"><text x="396.6" y="359.67" font-size="7.4" fill="#1e1e1e" text-anchor="start" textLength="19.6" lengthAdjust="spacingAndGlyphs">360007</text></g>
<text x="509.8" y="359.67" font-size="7.4" fill="#1e1e1e" text-anchor="start" textLength="42.4" lengthAdjust="spacingAndGlyphs">KA-1001 SUS304</text>
<text x="640.4" y="359.67" font-size="7.4" fill="#1e1e1e" text-anchor="end" textLength="11.6" lengthAdjust="spacingAndGlyphs">1400</text>
<g clip-path="url(#c4)"><text x="396.6" y="370.31" font-size="7.4" fill="#1e1e1e" text-anchor="start" textLength="19.6" lengthAdjust="spacingAndGlyphs">360008</text></g>
<text x="509.8" y="370.31" font-size="7.4" fill="#1e1e1e" text-anchor="start" textLength="47.3" lengthAdjust="spacingAndGlyphs">KA-1.5103 SUS304</text>
<text x="640.4" y="370.31" font-size="7.4" fill="#1e1e1e" text-anchor="end" textLength="11.6" lengthAdjust="spacingAndGlyphs">1540</text>
<g clip-path="url(#c4)"><text x="396.6" y="380.95" font-size="7.4" fill="#1e1e1e" text-anchor="start" textLength="19.6" lengthAdjust="spacingAndGlyphs">360009</text></g>
<text x="509.8" y="380.95" font-size="7.4" fill="#1e1e1e" text-anchor="start" textLength="42.4" lengthAdjust="spacingAndGlyphs">KA-2105 SUS304</text>
<text x="640.4" y="380.95" font-size="7.4" fill="#1e1e1e" text-anchor="end" textLength="11.6" lengthAdjust="spacingAndGlyphs">1820</text>
<g clip-path="url(#c4)"><text x="396.6" y="391.59" font-size="7.4" fill="#1e1e1e" text-anchor="start" textLength="19.6" lengthAdjust="spacingAndGlyphs">360010</text></g>
<text x="509.8" y="391.59" font-size="7.4" fill="#1e1e1e" text-anchor="start" textLength="42.4" lengthAdjust="spacingAndGlyphs">KA-2301 SUS304</text>
<text x="640.4" y="391.59" font-size="7.4" fill="#1e1e1e" text-anchor="end" textLength="11.6" lengthAdjust="spacingAndGlyphs">2240</text>
<g clip-path="url(#c4)"><text x="396.6" y="402.23" font-size="7.4" fill="#1e1e1e" text-anchor="start" textLength="19.6" lengthAdjust="spacingAndGlyphs">360011</text></g>
<text x="509.8" y="402.23" font-size="7.4" fill="#1e1e1e" text-anchor="start" textLength="42.4" lengthAdjust="spacingAndGlyphs">KA-3301 SUS304</text>
<text x="640.4" y="402.23" font-size="7.4" fill="#1e1e1e" text-anchor="end" textLength="11.6" lengthAdjust="spacingAndGlyphs">2380</text>
<g clip-path="url(#c4)"><text x="396.6" y="412.87" font-size="7.4" fill="#1e1e1e" text-anchor="start" textLength="19.6" lengthAdjust="spacingAndGlyphs">360012</text></g>
<text x="509.8" y="412.87" font-size="7.4" fill="#1e1e1e" text-anchor="start" textLength="42.4" lengthAdjust="spacingAndGlyphs">KA-3302 SUS304</text>
<text x="640.4" y="412.87" font-size="7.4" fill="#1e1e1e" text-anchor="end" textLength="11.6" lengthAdjust="spacingAndGlyphs">2800</text>
<g clip-path="url(#c4)"><text x="396.6" y="423.51" font-size="7.4" fill="#1e1e1e" text-anchor="start" textLength="19.6" lengthAdjust="spacingAndGlyphs">360013</text></g>
<text x="509.8" y="423.51" font-size="7.4" fill="#1e1e1e" text-anchor="start" textLength="42.4" lengthAdjust="spacingAndGlyphs">KA-3303 SUS304</text>
<text x="640.4" y="423.51" font-size="7.4" fill="#1e1e1e" text-anchor="end" textLength="11.6" lengthAdjust="spacingAndGlyphs">4060</text>
<g clip-path="url(#c4)"><text x="396.6" y="434.15" font-size="7.4" fill="#1e1e1e" text-anchor="start" textLength="19.6" lengthAdjust="spacingAndGlyphs">360014</text></g>
<text x="509.8" y="434.15" font-size="7.4" fill="#1e1e1e" text-anchor="start" textLength="42.4" lengthAdjust="spacingAndGlyphs">KA-3305 SUS304</text>
<text x="640.4" y="434.15" font-size="7.4" fill="#1e1e1e" text-anchor="end" textLength="11.6" lengthAdjust="spacingAndGlyphs">4760</text>
<g clip-path="url(#c4)"><text x="396.6" y="444.79" font-size="7.4" fill="#1e1e1e" text-anchor="start" textLength="19.6" lengthAdjust="spacingAndGlyphs">360015</text></g>
<text x="509.8" y="444.79" font-size="7.4" fill="#1e1e1e" text-anchor="start" textLength="56.1" lengthAdjust="spacingAndGlyphs">KA-2101-220V SUS304</text>
<text x="640.4" y="444.79" font-size="7.4" fill="#1e1e1e" text-anchor="end" textLength="11.6" lengthAdjust="spacingAndGlyphs">2240</text>
<g clip-path="url(#c4)"><text x="396.6" y="455.43" font-size="7.4" fill="#1e1e1e" text-anchor="start" textLength="19.6" lengthAdjust="spacingAndGlyphs">360016</text></g>
<text x="640.4" y="455.43" font-size="7.4" fill="#1e1e1e" text-anchor="end" textLength="11.6" lengthAdjust="spacingAndGlyphs">7000</text>
<g clip-path="url(#c4)"><text x="396.6" y="466.07" font-size="7.4" fill="#1e1e1e" text-anchor="start" textLength="19.6" lengthAdjust="spacingAndGlyphs">360017</text></g>
<text x="640.4" y="466.07" font-size="7.4" fill="#1e1e1e" text-anchor="end" textLength="11.6" lengthAdjust="spacingAndGlyphs">3990</text>
<g clip-path="url(#c4)"><text x="396.6" y="476.71" font-size="7.4" fill="#1e1e1e" text-anchor="start" textLength="19.6" lengthAdjust="spacingAndGlyphs">360018</text></g>
<text x="509.8" y="476.71" font-size="7.4" fill="#1e1e1e" text-anchor="start" textLength="39.4" lengthAdjust="spacingAndGlyphs">7.5HP  SUS304</text>
<text x="640.4" y="476.71" font-size="7.4" fill="#1e1e1e" text-anchor="end" textLength="11.6" lengthAdjust="spacingAndGlyphs">6300</text>
<g clip-path="url(#c4)"><text x="396.6" y="487.35" font-size="7.4" fill="#1e1e1e" text-anchor="start" textLength="19.6" lengthAdjust="spacingAndGlyphs">360019</text></g>
<text x="509.8" y="487.35" font-size="7.4" fill="#1e1e1e" text-anchor="start" textLength="30.3" lengthAdjust="spacingAndGlyphs">5HP SUS304</text>
<text x="640.4" y="487.35" font-size="7.4" fill="#1e1e1e" text-anchor="end" textLength="11.6" lengthAdjust="spacingAndGlyphs">4900</text>
<text x="424.3" y="338.39" font-size="5.9" fill="#262626" textLength="31.4" lengthAdjust="spacingAndGlyphs">不锈钢潜水泵</text>
<text x="424.3" y="349.03" font-size="5.9" fill="#262626" textLength="31.4" lengthAdjust="spacingAndGlyphs">不锈钢潜水泵</text>
<text x="424.3" y="359.67" font-size="5.9" fill="#262626" textLength="31.4" lengthAdjust="spacingAndGlyphs">不锈钢潜水泵</text>
<text x="424.3" y="370.31" font-size="5.9" fill="#262626" textLength="31.4" lengthAdjust="spacingAndGlyphs">不锈钢潜水泵</text>
<text x="424.3" y="380.95" font-size="5.9" fill="#262626" textLength="31.4" lengthAdjust="spacingAndGlyphs">不锈钢潜水泵</text>
<text x="424.3" y="391.59" font-size="5.9" fill="#262626" textLength="31.4" lengthAdjust="spacingAndGlyphs">不锈钢潜水泵</text>
<text x="424.3" y="402.23" font-size="5.9" fill="#262626" textLength="31.4" lengthAdjust="spacingAndGlyphs">不锈钢潜水泵</text>
<text x="424.3" y="412.87" font-size="5.9" fill="#262626" textLength="31.4" lengthAdjust="spacingAndGlyphs">不锈钢潜水泵</text>
<text x="424.3" y="423.51" font-size="5.9" fill="#262626" textLength="31.4" lengthAdjust="spacingAndGlyphs">不锈钢潜水泵</text>
<text x="424.3" y="434.15" font-size="5.9" fill="#262626" textLength="31.4" lengthAdjust="spacingAndGlyphs">不锈钢潜水泵</text>
<text x="424.3" y="444.79" font-size="5.9" fill="#262626" textLength="31.4" lengthAdjust="spacingAndGlyphs">不锈钢潜水泵</text>
<text x="424.3" y="455.43" font-size="5.9" fill="#262626" textLength="31.4" lengthAdjust="spacingAndGlyphs">不锈钢潜水泵</text>
<text x="424.3" y="466.07" font-size="5.9" fill="#262626" textLength="31.4" lengthAdjust="spacingAndGlyphs">不锈钢潜水泵</text>
<text x="424.3" y="476.71" font-size="5.9" fill="#262626" textLength="31.4" lengthAdjust="spacingAndGlyphs">不锈钢潜水泵</text>
<text x="424.3" y="487.35" font-size="5.9" fill="#262626" textLength="31.4" lengthAdjust="spacingAndGlyphs">不锈钢潜水泵</text>
<text x="509.8" y="455.43" font-size="7.4" fill="#1e1e1e" text-anchor="start" textLength="28.4" lengthAdjust="spacingAndGlyphs">KA-2.5-310</text>
<text x="540.9" y="455.43" font-size="5.9" fill="#262626" textLength="11.4" lengthAdjust="spacingAndGlyphs">功率</text>
<text x="552.8" y="455.43" font-size="7.4" fill="#1e1e1e" text-anchor="start" textLength="15.6" lengthAdjust="spacingAndGlyphs">7.5kw</text>
<circle cx="570.3" cy="453.8" r="0.55" fill="#333"/>
<text x="572" y="455.43" font-size="5.9" fill="#262626" textLength="10.5" lengthAdjust="spacingAndGlyphs">口径</text>
<defs><clipPath id="c5"><rect x="500" y="320" width="95.4" height="180"/></clipPath></defs>
<g clip-path="url(#c5)"><text x="582.8" y="455.43" font-size="7.4" fill="#1e1e1e" text-anchor="start" textLength="14.6" lengthAdjust="spacingAndGlyphs">65mm</text></g>
<text x="509.8" y="466.07" font-size="7.4" fill="#1e1e1e" text-anchor="start" textLength="23.4" lengthAdjust="spacingAndGlyphs">KF-25303</text>
<text x="538.8" y="466.07" font-size="5.9" fill="#262626" textLength="10.4" lengthAdjust="spacingAndGlyphs">口径</text>
<text x="549.6" y="466.07" font-size="7.4" fill="#1e1e1e" text-anchor="start" textLength="6.4" lengthAdjust="spacingAndGlyphs">65</text>
<circle cx="557.4" cy="464.5" r="0.55" fill="#333"/>
<text x="560.6" y="466.07" font-size="7.4" fill="#1e1e1e" text-anchor="start" textLength="19.6" lengthAdjust="spacingAndGlyphs">SUS304</text>
<text x="580.6" y="466.07" font-size="5.9" fill="#262626" textLength="10.4" lengthAdjust="spacingAndGlyphs">材质</text>
<circle cx="592.4" cy="464.5" r="0.55" fill="#333"/>
<path d="M508.9 457.3h1.6l-1.6 1.6z" fill="#1f8a4c"/>
</svg></div>
<div class="caption" style="top:506px;height:46px"><svg width="700" height="46" viewBox="0 506 700 46"><text x="94" y="540.5" font-size="31.5" font-weight="bold" fill="#0a0a0a" textLength="194" lengthAdjust="spacing">产品性能曲线</text><text x="404" y="540.5" font-size="31.5" font-weight="bold" fill="#0a0a0a" textLength="227.5" lengthAdjust="spacing">产品详细价格表</text></svg></div>
</body>
</html>
